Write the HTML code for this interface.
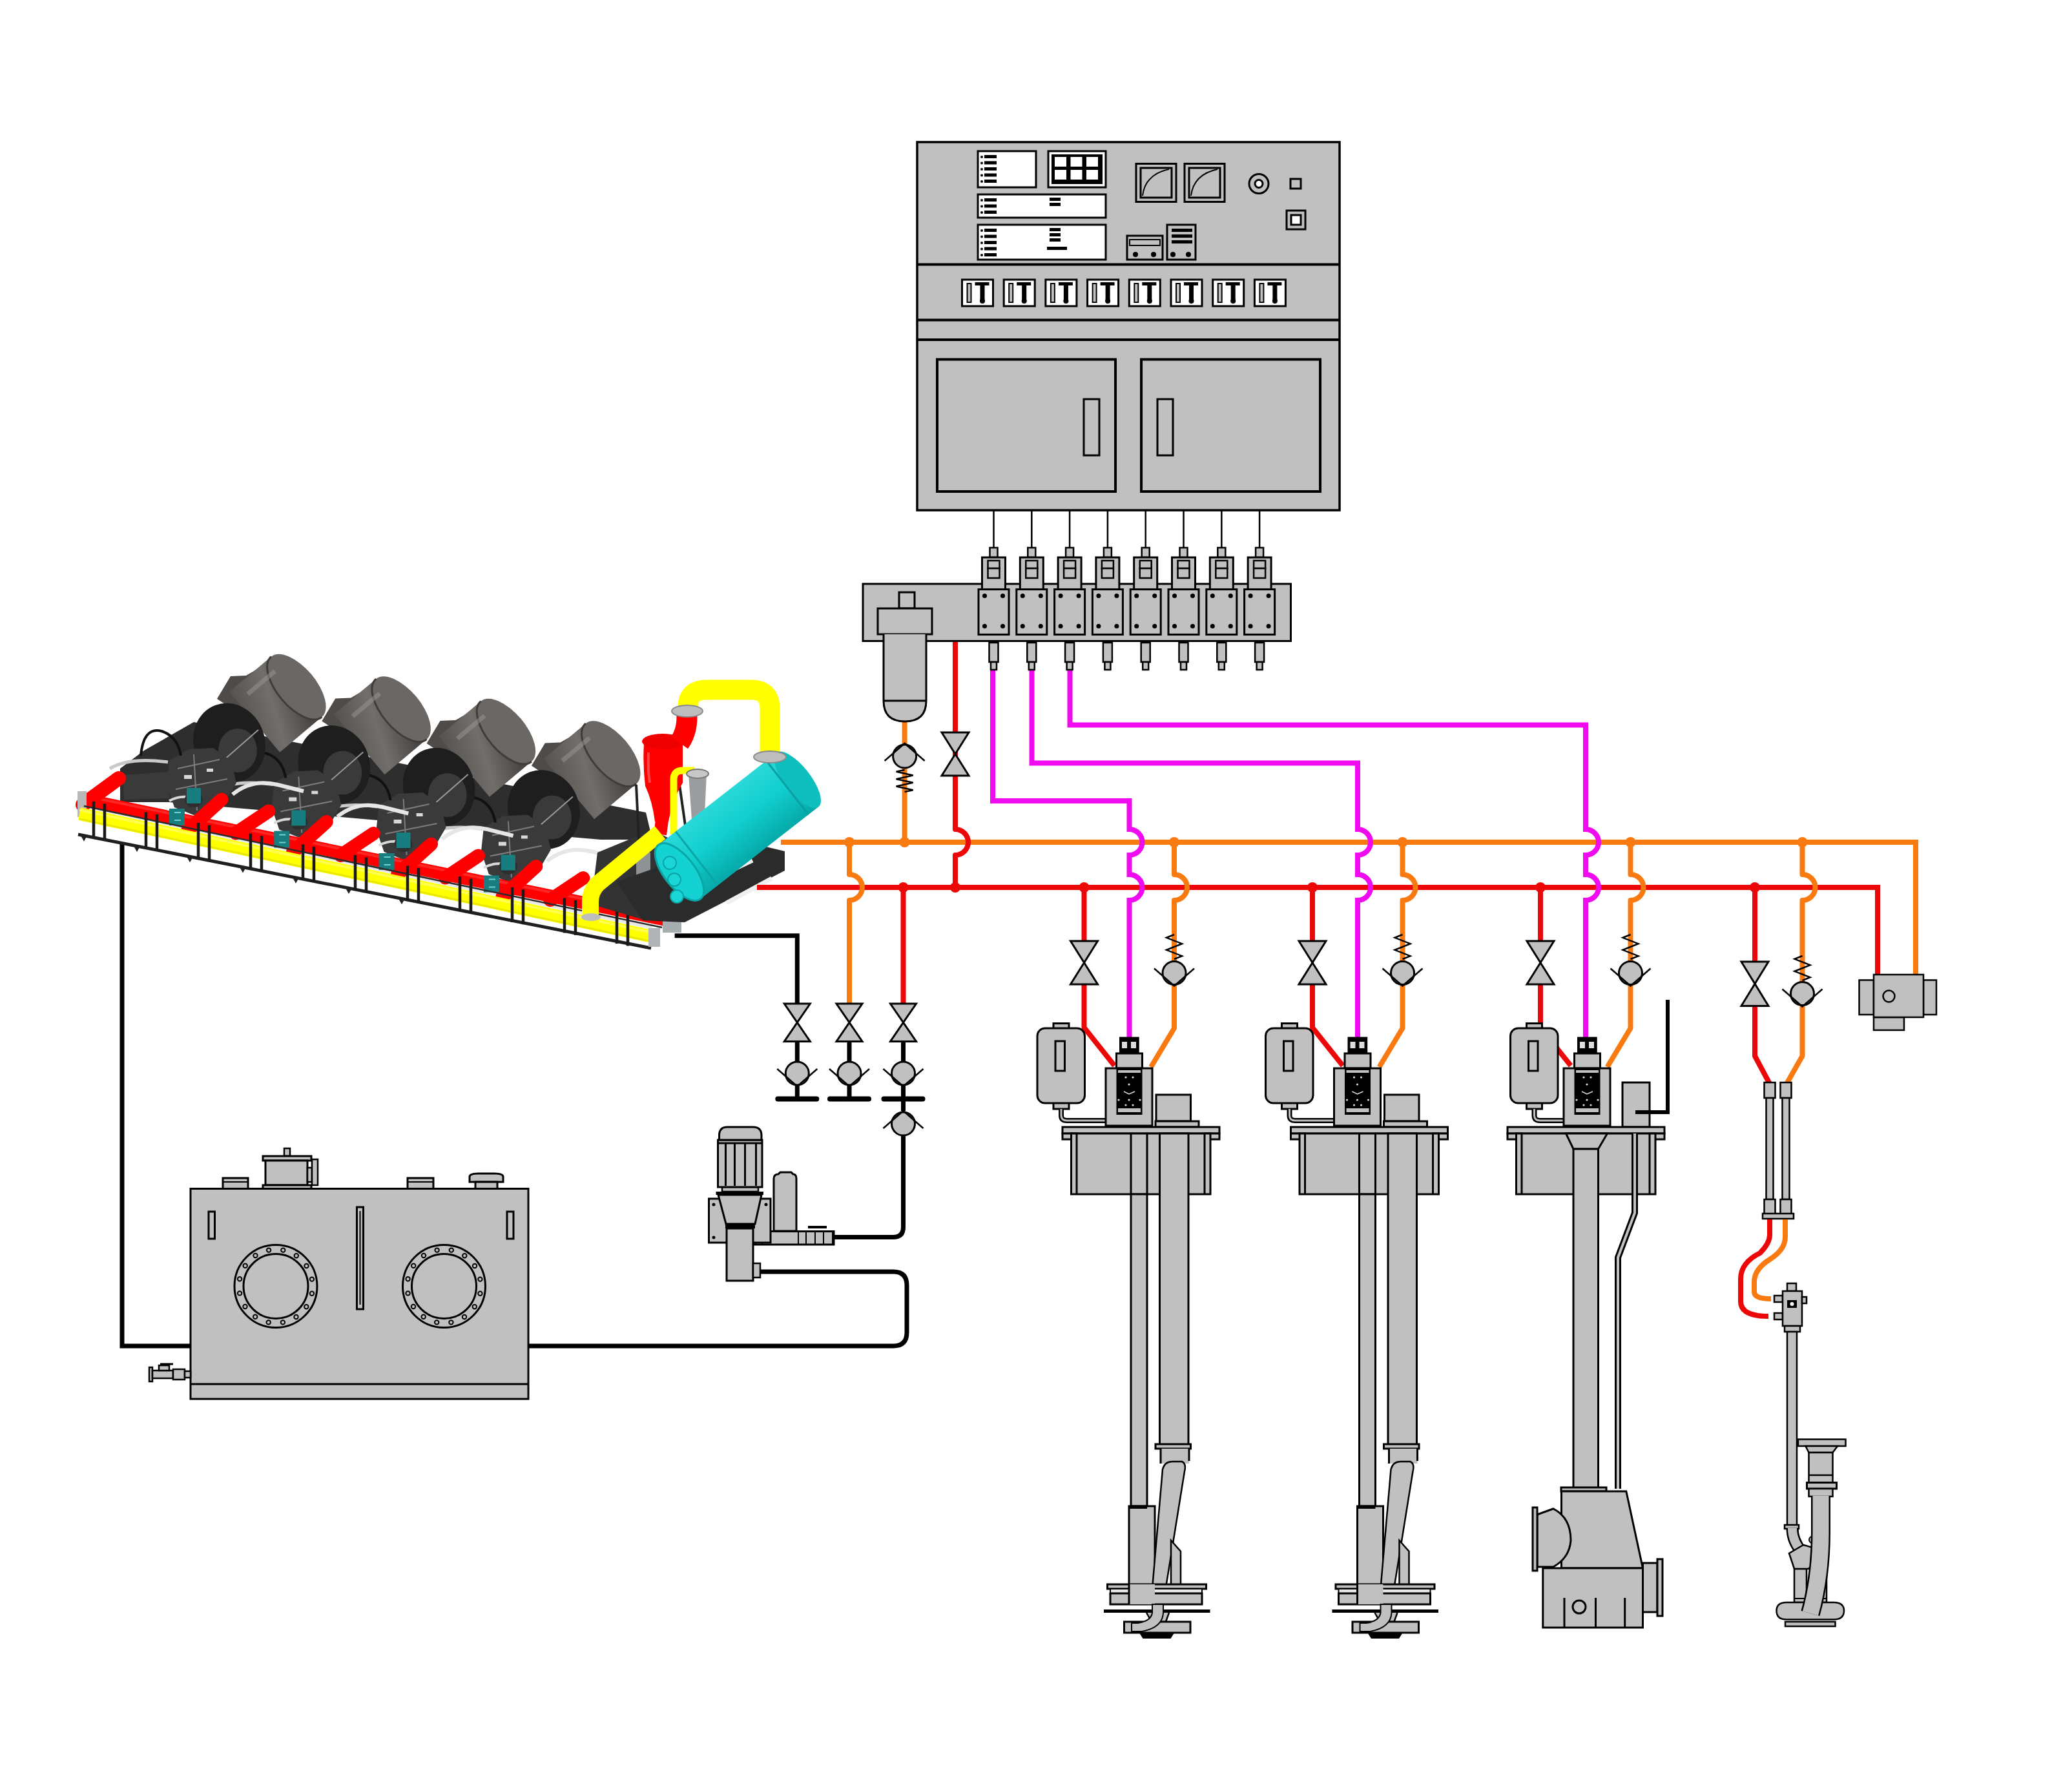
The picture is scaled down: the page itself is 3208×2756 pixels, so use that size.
<!DOCTYPE html><html><head><meta charset="utf-8"><title>Hydraulic system</title><style>html,body{margin:0;padding:0;background:#fff;font-family:"Liberation Sans", sans-serif;}svg{display:block;}</style></head><body>
<svg width="3208" height="2756" viewBox="0 0 3208 2756">
<rect width="3208" height="2756" fill="#fff"/>
<g id="tank">
<path d="M189,1304 V2084 H296" stroke="#000" stroke-width="7" fill="none" stroke-linejoin="miter"/>
<path d="M817,2084 H1383 Q1404,2084 1404,2063 V1990 Q1404,1969 1383,1969 H1173" stroke="#000" stroke-width="7" fill="none" />
<rect x="345.0" y="1824.0" width="39.0" height="17.0" fill="#c0c0c0" stroke="#000" stroke-width="3" />
<line x1="345.0" y1="1830.0" x2="384.0" y2="1830.0" stroke="#000" stroke-width="2"/>
<rect x="440.0" y="1778.0" width="9.0" height="12.0" fill="#c0c0c0" stroke="#000" stroke-width="2.5" />
<rect x="407.0" y="1790.0" width="75.0" height="7.0" fill="#c0c0c0" stroke="#000" stroke-width="3" />
<rect x="411.0" y="1797.0" width="65.0" height="38.0" fill="#c0c0c0" stroke="#000" stroke-width="3" />
<rect x="407.0" y="1835.0" width="75.0" height="6.0" fill="#c0c0c0" stroke="#000" stroke-width="3" />
<rect x="476.0" y="1808.0" width="7.0" height="22.0" fill="#c0c0c0" stroke="#000" stroke-width="2.5" />
<rect x="483.0" y="1795.0" width="9.0" height="40.0" fill="#c0c0c0" stroke="#000" stroke-width="2.5" />
<rect x="631.0" y="1824.0" width="40.0" height="17.0" fill="#c0c0c0" stroke="#000" stroke-width="3" />
<line x1="631.0" y1="1830.0" x2="671.0" y2="1830.0" stroke="#000" stroke-width="2"/>
<path d="M727,1830 V1822 Q727,1817 740,1817 H766 Q779,1817 779,1822 V1830 Z" stroke="#000" stroke-width="3" fill="#c0c0c0" />
<rect x="736.0" y="1830.0" width="34.0" height="11.0" fill="#c0c0c0" stroke="#000" stroke-width="3" />
<rect x="295.0" y="1840.5" width="523.0" height="325.5" fill="#c0c0c0" stroke="#000" stroke-width="3" />
<line x1="295.0" y1="2143.0" x2="818.0" y2="2143.0" stroke="#000" stroke-width="3"/>
<rect x="323.0" y="1876.0" width="9.5" height="42.0" fill="#c0c0c0" stroke="#000" stroke-width="3" />
<rect x="785.0" y="1876.0" width="10.0" height="42.0" fill="#c0c0c0" stroke="#000" stroke-width="3" />
<rect x="552.5" y="1869.0" width="10.0" height="158.0" fill="#c0c0c0" stroke="#000" stroke-width="3" />
<line x1="557.5" y1="1875.0" x2="557.5" y2="2020.0" stroke="#000" stroke-width="2"/>
<circle cx="427" cy="1991.5" r="57" fill="none" stroke="#000" stroke-width="17"/>
<circle cx="427" cy="1991.5" r="57" fill="none" stroke="#c0c0c0" stroke-width="11"/>
<circle cx="482.9" cy="2002.8" r="3.2" fill="none" stroke="#000" stroke-width="2"/>
<circle cx="474.3" cy="2023.3" r="3.2" fill="none" stroke="#000" stroke-width="2"/>
<circle cx="458.5" cy="2039.0" r="3.2" fill="none" stroke="#000" stroke-width="2"/>
<circle cx="437.9" cy="2047.4" r="3.2" fill="none" stroke="#000" stroke-width="2"/>
<circle cx="415.7" cy="2047.4" r="3.2" fill="none" stroke="#000" stroke-width="2"/>
<circle cx="395.2" cy="2038.8" r="3.2" fill="none" stroke="#000" stroke-width="2"/>
<circle cx="379.5" cy="2023.0" r="3.2" fill="none" stroke="#000" stroke-width="2"/>
<circle cx="371.1" cy="2002.4" r="3.2" fill="none" stroke="#000" stroke-width="2"/>
<circle cx="371.1" cy="1980.2" r="3.2" fill="none" stroke="#000" stroke-width="2"/>
<circle cx="379.7" cy="1959.7" r="3.2" fill="none" stroke="#000" stroke-width="2"/>
<circle cx="395.5" cy="1944.0" r="3.2" fill="none" stroke="#000" stroke-width="2"/>
<circle cx="416.1" cy="1935.6" r="3.2" fill="none" stroke="#000" stroke-width="2"/>
<circle cx="438.3" cy="1935.6" r="3.2" fill="none" stroke="#000" stroke-width="2"/>
<circle cx="458.8" cy="1944.2" r="3.2" fill="none" stroke="#000" stroke-width="2"/>
<circle cx="474.5" cy="1960.0" r="3.2" fill="none" stroke="#000" stroke-width="2"/>
<circle cx="482.9" cy="1980.6" r="3.2" fill="none" stroke="#000" stroke-width="2"/>
<circle cx="687.5" cy="1991.5" r="57" fill="none" stroke="#000" stroke-width="17"/>
<circle cx="687.5" cy="1991.5" r="57" fill="none" stroke="#c0c0c0" stroke-width="11"/>
<circle cx="743.4" cy="2002.8" r="3.2" fill="none" stroke="#000" stroke-width="2"/>
<circle cx="734.8" cy="2023.3" r="3.2" fill="none" stroke="#000" stroke-width="2"/>
<circle cx="719.0" cy="2039.0" r="3.2" fill="none" stroke="#000" stroke-width="2"/>
<circle cx="698.4" cy="2047.4" r="3.2" fill="none" stroke="#000" stroke-width="2"/>
<circle cx="676.2" cy="2047.4" r="3.2" fill="none" stroke="#000" stroke-width="2"/>
<circle cx="655.7" cy="2038.8" r="3.2" fill="none" stroke="#000" stroke-width="2"/>
<circle cx="640.0" cy="2023.0" r="3.2" fill="none" stroke="#000" stroke-width="2"/>
<circle cx="631.6" cy="2002.4" r="3.2" fill="none" stroke="#000" stroke-width="2"/>
<circle cx="631.6" cy="1980.2" r="3.2" fill="none" stroke="#000" stroke-width="2"/>
<circle cx="640.2" cy="1959.7" r="3.2" fill="none" stroke="#000" stroke-width="2"/>
<circle cx="656.0" cy="1944.0" r="3.2" fill="none" stroke="#000" stroke-width="2"/>
<circle cx="676.6" cy="1935.6" r="3.2" fill="none" stroke="#000" stroke-width="2"/>
<circle cx="698.8" cy="1935.6" r="3.2" fill="none" stroke="#000" stroke-width="2"/>
<circle cx="719.3" cy="1944.2" r="3.2" fill="none" stroke="#000" stroke-width="2"/>
<circle cx="735.0" cy="1960.0" r="3.2" fill="none" stroke="#000" stroke-width="2"/>
<circle cx="743.4" cy="1980.6" r="3.2" fill="none" stroke="#000" stroke-width="2"/>
<rect x="231.0" y="2117.0" width="5.0" height="22.0" fill="#c0c0c0" stroke="#000" stroke-width="2.5" />
<rect x="236.0" y="2122.0" width="32.0" height="12.0" fill="#c0c0c0" stroke="#000" stroke-width="2.5" />
<rect x="246.0" y="2114.0" width="16.0" height="8.0" fill="#c0c0c0" stroke="#000" stroke-width="2.5" />
<line x1="248.0" y1="2112.0" x2="268.0" y2="2112.0" stroke="#000" stroke-width="3"/>
<rect x="268.0" y="2120.0" width="18.0" height="16.0" fill="#c0c0c0" stroke="#000" stroke-width="2.5" />
<rect x="286.0" y="2123.0" width="9.0" height="10.0" fill="#c0c0c0" stroke="#000" stroke-width="2.5" />
</g>
<g id="unit3d">
<defs>
<linearGradient id="motg" x1="0" y1="0" x2="1" y2="0.6">
<stop offset="0" stop-color="#55524f"/><stop offset="0.55" stop-color="#726f6b"/><stop offset="1" stop-color="#4a4744"/></linearGradient>
<linearGradient id="cyg" x1="0" y1="0" x2="0" y2="1">
<stop offset="0" stop-color="#2ad8d8"/><stop offset="0.45" stop-color="#12cfcf"/><stop offset="1" stop-color="#06a9a9"/></linearGradient>
</defs>
<path d="M186,1190 L223,1162 L300,1118 L1000,1258 L1010,1300 L930,1300 L262,1242 L186,1242 Z" fill="#2e2e2e"/>
<path d="M190,1200 L260,1195 L262,1236 L192,1238 Z" fill="#3a3a3a"/>
<g transform="translate(486.9,103.5)">
<path d="M336,1082 L357,1047 L381,1046 L405,1032 L428,1078 L400,1125 Z" fill="#4e4b48"/>
<g transform="translate(394,1118) rotate(-40)"><rect x="0" y="-61" width="85" height="122" fill="url(#motg)"/><ellipse cx="85" cy="0" rx="30" ry="61" fill="#6a6764"/><path d="M85,-61 A30,61 0 0 0 85,61" stroke="#3f3d3b" stroke-width="3" fill="none"/><path d="M20,-40 L75,-40" stroke="#9b9894" stroke-width="7" opacity="0.5"/></g>
<ellipse cx="355" cy="1150" rx="55" ry="62" transform="rotate(-20 355 1150)" fill="#1e1e1e"/>
<ellipse cx="368" cy="1162" rx="30" ry="34" fill="#3a3a3a"/>
<path d="M320,1200 L400,1130" stroke="#9a9a9a" stroke-width="2"/>
<path d="M262,1178 L292,1160 L330,1158 L358,1178 L366,1212 L345,1248 L300,1262 L270,1250 L258,1215 Z" fill="#3a3a3a"/>
<path d="M275,1190 L340,1176 M272,1222 L352,1206 M300,1168 L305,1255" stroke="#7d7d7d" stroke-width="2" fill="none"/>
<path d="M285,1200 h12 v6 h-12 z M320,1190 h10 v5 h-10 z" fill="#d8d8d8"/>
<path d="M262,1240 Q280,1230 300,1236" stroke="#d8d8d8" stroke-width="4" fill="none"/>
<ellipse cx="300" cy="1238" rx="14" ry="12" fill="#2e2e2e"/>
<path d="M170,1190 Q200,1172 260,1180" stroke="#c9c9c9" stroke-width="5" fill="none"/>
<path d="M360,1230 Q390,1205 430,1215 L470,1225" stroke="#e6e6e6" stroke-width="6" fill="none"/>
<path d="M218,1170 Q222,1125 250,1132 Q275,1140 280,1170" stroke="#111" stroke-width="4" fill="none"/>
</g>
<g transform="translate(324.6,69.0)">
<path d="M336,1082 L357,1047 L381,1046 L405,1032 L428,1078 L400,1125 Z" fill="#4e4b48"/>
<g transform="translate(394,1118) rotate(-40)"><rect x="0" y="-61" width="85" height="122" fill="url(#motg)"/><ellipse cx="85" cy="0" rx="30" ry="61" fill="#6a6764"/><path d="M85,-61 A30,61 0 0 0 85,61" stroke="#3f3d3b" stroke-width="3" fill="none"/><path d="M20,-40 L75,-40" stroke="#9b9894" stroke-width="7" opacity="0.5"/></g>
<ellipse cx="355" cy="1150" rx="55" ry="62" transform="rotate(-20 355 1150)" fill="#1e1e1e"/>
<ellipse cx="368" cy="1162" rx="30" ry="34" fill="#3a3a3a"/>
<path d="M320,1200 L400,1130" stroke="#9a9a9a" stroke-width="2"/>
<path d="M262,1178 L292,1160 L330,1158 L358,1178 L366,1212 L345,1248 L300,1262 L270,1250 L258,1215 Z" fill="#3a3a3a"/>
<path d="M275,1190 L340,1176 M272,1222 L352,1206 M300,1168 L305,1255" stroke="#7d7d7d" stroke-width="2" fill="none"/>
<path d="M285,1200 h12 v6 h-12 z M320,1190 h10 v5 h-10 z" fill="#d8d8d8"/>
<path d="M262,1240 Q280,1230 300,1236" stroke="#d8d8d8" stroke-width="4" fill="none"/>
<ellipse cx="300" cy="1238" rx="14" ry="12" fill="#2e2e2e"/>
<path d="M170,1190 Q200,1172 260,1180" stroke="#c9c9c9" stroke-width="5" fill="none"/>
<path d="M360,1230 Q390,1205 430,1215 L470,1225" stroke="#e6e6e6" stroke-width="6" fill="none"/>
<path d="M218,1170 Q222,1125 250,1132 Q275,1140 280,1170" stroke="#111" stroke-width="4" fill="none"/>
</g>
<g transform="translate(162.3,34.5)">
<path d="M336,1082 L357,1047 L381,1046 L405,1032 L428,1078 L400,1125 Z" fill="#4e4b48"/>
<g transform="translate(394,1118) rotate(-40)"><rect x="0" y="-61" width="85" height="122" fill="url(#motg)"/><ellipse cx="85" cy="0" rx="30" ry="61" fill="#6a6764"/><path d="M85,-61 A30,61 0 0 0 85,61" stroke="#3f3d3b" stroke-width="3" fill="none"/><path d="M20,-40 L75,-40" stroke="#9b9894" stroke-width="7" opacity="0.5"/></g>
<ellipse cx="355" cy="1150" rx="55" ry="62" transform="rotate(-20 355 1150)" fill="#1e1e1e"/>
<ellipse cx="368" cy="1162" rx="30" ry="34" fill="#3a3a3a"/>
<path d="M320,1200 L400,1130" stroke="#9a9a9a" stroke-width="2"/>
<path d="M262,1178 L292,1160 L330,1158 L358,1178 L366,1212 L345,1248 L300,1262 L270,1250 L258,1215 Z" fill="#3a3a3a"/>
<path d="M275,1190 L340,1176 M272,1222 L352,1206 M300,1168 L305,1255" stroke="#7d7d7d" stroke-width="2" fill="none"/>
<path d="M285,1200 h12 v6 h-12 z M320,1190 h10 v5 h-10 z" fill="#d8d8d8"/>
<path d="M262,1240 Q280,1230 300,1236" stroke="#d8d8d8" stroke-width="4" fill="none"/>
<ellipse cx="300" cy="1238" rx="14" ry="12" fill="#2e2e2e"/>
<path d="M170,1190 Q200,1172 260,1180" stroke="#c9c9c9" stroke-width="5" fill="none"/>
<path d="M360,1230 Q390,1205 430,1215 L470,1225" stroke="#e6e6e6" stroke-width="6" fill="none"/>
<path d="M218,1170 Q222,1125 250,1132 Q275,1140 280,1170" stroke="#111" stroke-width="4" fill="none"/>
</g>
<g transform="translate(0.0,0.0)">
<path d="M336,1082 L357,1047 L381,1046 L405,1032 L428,1078 L400,1125 Z" fill="#4e4b48"/>
<g transform="translate(394,1118) rotate(-40)"><rect x="0" y="-61" width="85" height="122" fill="url(#motg)"/><ellipse cx="85" cy="0" rx="30" ry="61" fill="#6a6764"/><path d="M85,-61 A30,61 0 0 0 85,61" stroke="#3f3d3b" stroke-width="3" fill="none"/><path d="M20,-40 L75,-40" stroke="#9b9894" stroke-width="7" opacity="0.5"/></g>
<ellipse cx="355" cy="1150" rx="55" ry="62" transform="rotate(-20 355 1150)" fill="#1e1e1e"/>
<ellipse cx="368" cy="1162" rx="30" ry="34" fill="#3a3a3a"/>
<path d="M320,1200 L400,1130" stroke="#9a9a9a" stroke-width="2"/>
<path d="M262,1178 L292,1160 L330,1158 L358,1178 L366,1212 L345,1248 L300,1262 L270,1250 L258,1215 Z" fill="#3a3a3a"/>
<path d="M275,1190 L340,1176 M272,1222 L352,1206 M300,1168 L305,1255" stroke="#7d7d7d" stroke-width="2" fill="none"/>
<path d="M285,1200 h12 v6 h-12 z M320,1190 h10 v5 h-10 z" fill="#d8d8d8"/>
<path d="M262,1240 Q280,1230 300,1236" stroke="#d8d8d8" stroke-width="4" fill="none"/>
<ellipse cx="300" cy="1238" rx="14" ry="12" fill="#2e2e2e"/>
<path d="M170,1190 Q200,1172 260,1180" stroke="#c9c9c9" stroke-width="5" fill="none"/>
<path d="M360,1230 Q390,1205 430,1215 L470,1225" stroke="#e6e6e6" stroke-width="6" fill="none"/>
<path d="M218,1170 Q222,1125 250,1132 Q275,1140 280,1170" stroke="#111" stroke-width="4" fill="none"/>
</g>
<path d="M150,1252 L1010,1436" stroke="#e8e8e8" stroke-width="6" fill="none"/>
<path d="M130,1238 L1030,1424" stroke="#ff0000" stroke-width="20" fill="none"/>
<path d="M130,1232 L1030,1418" stroke="#ff4040" stroke-width="4" fill="none" opacity="0.6"/>
<path d="M291.0,1285.0 L343.0,1238.0" stroke="#ff0000" stroke-width="21" stroke-linecap="round"/>
<path d="M365.0,1290.0 L416.0,1256.0" stroke="#ff0000" stroke-width="21" stroke-linecap="round"/>
<rect x="262.0" y="1252.0" width="24" height="26" fill="#187d7e"/>
<rect x="289.0" y="1220.0" width="22" height="24" fill="#187d7e"/>
<path d="M270.0,1258.0 h10 M270.0,1270.0 h10" stroke="#6fd0d0" stroke-width="2"/>
<path d="M453.3,1319.5 L505.3,1272.5" stroke="#ff0000" stroke-width="21" stroke-linecap="round"/>
<path d="M527.3,1324.5 L578.3,1290.5" stroke="#ff0000" stroke-width="21" stroke-linecap="round"/>
<rect x="424.3" y="1286.5" width="24" height="26" fill="#187d7e"/>
<rect x="451.3" y="1254.5" width="22" height="24" fill="#187d7e"/>
<path d="M432.3,1292.5 h10 M432.3,1304.5 h10" stroke="#6fd0d0" stroke-width="2"/>
<path d="M615.6,1354.0 L667.6,1307.0" stroke="#ff0000" stroke-width="21" stroke-linecap="round"/>
<path d="M689.6,1359.0 L740.6,1325.0" stroke="#ff0000" stroke-width="21" stroke-linecap="round"/>
<rect x="586.6" y="1321.0" width="24" height="26" fill="#187d7e"/>
<rect x="613.6" y="1289.0" width="22" height="24" fill="#187d7e"/>
<path d="M594.6,1327.0 h10 M594.6,1339.0 h10" stroke="#6fd0d0" stroke-width="2"/>
<path d="M777.9,1388.5 L829.9,1341.5" stroke="#ff0000" stroke-width="21" stroke-linecap="round"/>
<path d="M851.9,1393.5 L902.9,1359.5" stroke="#ff0000" stroke-width="21" stroke-linecap="round"/>
<rect x="748.9" y="1355.5" width="24" height="26" fill="#187d7e"/>
<rect x="775.9" y="1323.5" width="22" height="24" fill="#187d7e"/>
<path d="M756.9,1361.5 h10 M756.9,1373.5 h10" stroke="#6fd0d0" stroke-width="2"/>
<path d="M128,1246 L184,1205" stroke="#ff0000" stroke-width="22" stroke-linecap="round"/>
<rect x="120" y="1225" width="14" height="40" fill="#b8b8b8"/>
<path d="M123,1260 L1005,1449" stroke="#ffff00" stroke-width="20" fill="none"/>
<path d="M123,1254 L1005,1443" stroke="#ffff70" stroke-width="4" fill="none" opacity="0.7"/>
<path d="M123,1268 L1005,1457" stroke="#e0e000" stroke-width="3" fill="none" opacity="0.7"/>
<path d="M121,1292 L1008,1468" stroke="#1f1f1f" stroke-width="5" fill="none"/>
<path d="M130,1248 L1025,1436" stroke="#2a2a2a" stroke-width="2.5" fill="none"/>
<path d="M145.0,1240.9 V1294.9" stroke="#1a1a1a" stroke-width="4.5"/>
<path d="M162.0,1244.4 V1298.4" stroke="#1a1a1a" stroke-width="4.5"/>
<path d="M226.0,1257.5 V1311.5" stroke="#1a1a1a" stroke-width="4.5"/>
<path d="M243.0,1261.0 V1315.0" stroke="#1a1a1a" stroke-width="4.5"/>
<path d="M307.0,1274.1 V1328.1" stroke="#1a1a1a" stroke-width="4.5"/>
<path d="M324.0,1277.6 V1331.6" stroke="#1a1a1a" stroke-width="4.5"/>
<path d="M388.0,1290.7 V1344.7" stroke="#1a1a1a" stroke-width="4.5"/>
<path d="M405.0,1294.2 V1348.2" stroke="#1a1a1a" stroke-width="4.5"/>
<path d="M469.0,1307.3 V1361.3" stroke="#1a1a1a" stroke-width="4.5"/>
<path d="M486.0,1310.8 V1364.8" stroke="#1a1a1a" stroke-width="4.5"/>
<path d="M550.0,1323.9 V1377.9" stroke="#1a1a1a" stroke-width="4.5"/>
<path d="M567.0,1327.4 V1381.4" stroke="#1a1a1a" stroke-width="4.5"/>
<path d="M631.0,1340.5 V1394.5" stroke="#1a1a1a" stroke-width="4.5"/>
<path d="M648.0,1344.0 V1398.0" stroke="#1a1a1a" stroke-width="4.5"/>
<path d="M712.0,1357.2 V1411.2" stroke="#1a1a1a" stroke-width="4.5"/>
<path d="M729.0,1360.6 V1414.6" stroke="#1a1a1a" stroke-width="4.5"/>
<path d="M793.0,1373.8 V1427.8" stroke="#1a1a1a" stroke-width="4.5"/>
<path d="M810.0,1377.2 V1431.2" stroke="#1a1a1a" stroke-width="4.5"/>
<path d="M874.0,1390.4 V1444.4" stroke="#1a1a1a" stroke-width="4.5"/>
<path d="M891.0,1393.8 V1447.8" stroke="#1a1a1a" stroke-width="4.5"/>
<path d="M955.0,1407.0 V1461.0" stroke="#1a1a1a" stroke-width="4.5"/>
<path d="M972.0,1410.5 V1464.5" stroke="#1a1a1a" stroke-width="4.5"/>
<path d="M125.0,1293.8 L130.0,1302.8 L135.0,1293.8 Z" fill="#222"/>
<path d="M207.0,1310.0 L212.0,1319.0 L217.0,1310.0 Z" fill="#222"/>
<path d="M289.0,1326.3 L294.0,1335.3 L299.0,1326.3 Z" fill="#222"/>
<path d="M371.0,1342.5 L376.0,1351.5 L381.0,1342.5 Z" fill="#222"/>
<path d="M453.0,1358.7 L458.0,1367.7 L463.0,1358.7 Z" fill="#222"/>
<path d="M535.0,1375.0 L540.0,1384.0 L545.0,1375.0 Z" fill="#222"/>
<path d="M617.0,1391.2 L622.0,1400.2 L627.0,1391.2 Z" fill="#222"/>
<rect x="1026" y="1410" width="29" height="34" fill="#a8adb0"/>
<rect x="1004" y="1437" width="18" height="29" fill="#b0b4b6"/>
<path d="M925,1320 L1010,1285 L1040,1300 L1040,1410 L1000,1425 L915,1400 Z" fill="#333"/>
<path d="M985,1320 h22 v40 h-22 z" fill="#8f9294"/>
<path d="M980,1395 L992,1370 L1000,1400 Z" fill="#ff0000"/>
<path d="M955,1365 L1140,1300 L1215,1318 L1215,1348 L1060,1428 L995,1425 Z" fill="#2b2b2b"/>
<path d="M1085,1370 L1165,1332 M1125,1398 L1195,1360" stroke="#f0f0f0" stroke-width="7"/>
<path d="M985,1215 L990,1320 M1052,1215 L1062,1285" stroke="#222" stroke-width="4"/>
<path d="M997,1150 Q995,1185 999,1217 Q1010,1240 1014,1272 L1035,1272 Q1040,1240 1057,1212 L1057,1150 Z" fill="#ff0000"/>
<path d="M1004,1165 Q1003,1195 1006,1212" stroke="#ff7070" stroke-width="4" fill="none" opacity="0.6"/>
<ellipse cx="1026" cy="1148" rx="32" ry="12" fill="#ee0000"/>
<path d="M1063,1100 Q1066,1130 1052,1150" stroke="#ff0000" stroke-width="32" fill="none"/>
<path d="M1025,1270 L1022,1292" stroke="#ff0000" stroke-width="20" fill="none"/>
<path d="M1065,1104 V1095 Q1065,1068 1094,1068 H1163 Q1192,1068 1192,1097 V1175" stroke="#ffff00" stroke-width="31" fill="none"/>
<ellipse cx="1064" cy="1101" rx="24" ry="9" fill="#bdbdbd" stroke="#8a8a8a" stroke-width="2"/>
<path d="M1022,1289 L926,1368 Q913,1380 914,1400 L914,1428" stroke="#ffff00" stroke-width="26" fill="none"/>
<ellipse cx="915" cy="1420" rx="15" ry="6" fill="#bdbdbd"/>
<path d="M1043,1292 V1207 Q1043,1193 1057,1193 H1075" stroke="#ffff00" stroke-width="11" fill="none"/>
<path d="M1066,1198 L1094,1198 L1090,1282 L1072,1284 Z" fill="#9a9da0"/>
<ellipse cx="1080" cy="1198" rx="17" ry="7" fill="#c8c8c8" stroke="#777" stroke-width="2"/>
<g transform="translate(1052,1350) rotate(-38)">
<rect x="0" y="-53" width="232" height="106" fill="url(#cyg)"/>
<ellipse cx="232" cy="0" rx="20" ry="53" fill="#0fbfbf"/>
<line x1="212" y1="-53" x2="212" y2="53" stroke="#0aa0a0" stroke-width="3"/>
<ellipse cx="0" cy="0" rx="24" ry="53" fill="#14d2d2" stroke="#0aa5a5" stroke-width="3"/>
<line x1="34" y1="-53" x2="34" y2="53" stroke="#0aa5a5" stroke-width="3"/>
</g>
<circle cx="1037" cy="1336" r="10" fill="#1ad6d6" stroke="#0aa5a5" stroke-width="2"/>
<circle cx="1044" cy="1362" r="10" fill="#1ad6d6" stroke="#0aa5a5" stroke-width="2"/>
<circle cx="1048" cy="1388" r="10" fill="#1ad6d6" stroke="#0aa5a5" stroke-width="2"/>
<ellipse cx="1192" cy="1172" rx="25" ry="9" fill="#bdbdbd" stroke="#8a8a8a" stroke-width="2"/>
</g>
<g id="pipes">
<path d="M1209,1304 H2966 V1512" stroke="#f97a10" stroke-width="8" fill="none" stroke-linejoin="miter"/>
<path d="M1172,1374 H2907 V1512" stroke="#ec0808" stroke-width="8" fill="none" stroke-linejoin="miter"/>
<path d="M1400.6,1117.0 V1304.0" stroke="#f97a10" stroke-width="8" fill="none" stroke-linejoin="round"/>
<path d="M1479.0,992.5 V1284.0 A20,20 0 0 1 1479.0,1324.0 V1374.0" stroke="#ec0808" stroke-width="8" fill="none" stroke-linejoin="round"/>
<path d="M1315.0,1304.0 V1354.0 A20,20 0 0 1 1315.0,1394.0 V1556.0" stroke="#f97a10" stroke-width="8" fill="none" stroke-linejoin="round"/>
<path d="M1398.5,1374.0 V1556.0" stroke="#ec0808" stroke-width="8" fill="none" stroke-linejoin="round"/>
<path d="M1044.6,1448.7 H1234.3 V1556" stroke="#000" stroke-width="7" fill="none" stroke-linejoin="miter"/>
<path d="M1234.3,1612 V1700" stroke="#000" stroke-width="7" fill="none" />
<path d="M1315,1612 V1700" stroke="#000" stroke-width="7" fill="none" />
<path d="M1398.5,1612 V1700" stroke="#000" stroke-width="7" fill="none" />
<path d="M1398.5,1700 V1720" stroke="#000" stroke-width="7" fill="none" />
<path d="M1398.5,1758 V1900 Q1398.5,1915.5 1383,1915.5 H1291" stroke="#000" stroke-width="7" fill="none" />
<path d="M1678.5,1374.0 V1460.0" stroke="#ec0808" stroke-width="8" fill="none" stroke-linejoin="round"/>
<path d="M1678.5,1522 V1591 L1725.5,1650" stroke="#ec0808" stroke-width="8" fill="none" stroke-linejoin="round"/>
<path d="M1818.0,1304.0 V1354.0 A20,20 0 0 1 1818.0,1394.0 V1490.0" stroke="#f97a10" stroke-width="8" fill="none" stroke-linejoin="round"/>
<path d="M1818,1520 V1592 L1782,1652" stroke="#f97a10" stroke-width="8" fill="none" stroke-linejoin="round"/>
<path d="M2032.0,1374.0 V1460.0" stroke="#ec0808" stroke-width="8" fill="none" stroke-linejoin="round"/>
<path d="M2032.0,1522 V1591 L2079.0,1650" stroke="#ec0808" stroke-width="8" fill="none" stroke-linejoin="round"/>
<path d="M2171.5,1304.0 V1354.0 A20,20 0 0 1 2171.5,1394.0 V1490.0" stroke="#f97a10" stroke-width="8" fill="none" stroke-linejoin="round"/>
<path d="M2171.5,1520 V1592 L2135.5,1652" stroke="#f97a10" stroke-width="8" fill="none" stroke-linejoin="round"/>
<path d="M2385.0,1374.0 V1460.0" stroke="#ec0808" stroke-width="8" fill="none" stroke-linejoin="round"/>
<path d="M2385.0,1522 V1591 L2432.0,1650" stroke="#ec0808" stroke-width="8" fill="none" stroke-linejoin="round"/>
<path d="M2524.5,1304.0 V1354.0 A20,20 0 0 1 2524.5,1394.0 V1490.0" stroke="#f97a10" stroke-width="8" fill="none" stroke-linejoin="round"/>
<path d="M2524.5,1520 V1592 L2488.5,1652" stroke="#f97a10" stroke-width="8" fill="none" stroke-linejoin="round"/>
<path d="M1537,1037 V1240 H1748.5 V1284 A20,20 0 0 1 1748.5,1324 V1354 A20,20 0 0 1 1748.5,1394 V1608" stroke="#f00af0" stroke-width="8" fill="none" stroke-linejoin="miter"/>
<path d="M1597.5,1037 V1181.5 H2102 V1284 A20,20 0 0 1 2102,1324 V1354 A20,20 0 0 1 2102,1394 V1608" stroke="#f00af0" stroke-width="8" fill="none" stroke-linejoin="miter"/>
<path d="M1656.5,1037 V1122.5 H2455 V1284 A20,20 0 0 1 2455,1324 V1354 A20,20 0 0 1 2455,1394 V1608" stroke="#f00af0" stroke-width="8" fill="none" stroke-linejoin="miter"/>
<path d="M2717.0,1374.0 V1492.0" stroke="#ec0808" stroke-width="8" fill="none" stroke-linejoin="round"/>
<path d="M2717,1556 V1635 L2741,1680" stroke="#ec0808" stroke-width="8" fill="none" stroke-linejoin="round"/>
<path d="M2790.5,1304.0 V1354.0 A20,20 0 0 1 2790.5,1394.0 V1520.0" stroke="#f97a10" stroke-width="8" fill="none" stroke-linejoin="round"/>
<path d="M2790.5,1558 V1635 L2765,1680" stroke="#f97a10" stroke-width="8" fill="none" stroke-linejoin="round"/>
<circle cx="1315" cy="1304" r="8" fill="#f97a10"/>
<circle cx="1400.6" cy="1304" r="8" fill="#f97a10"/>
<circle cx="1818" cy="1304" r="8" fill="#f97a10"/>
<circle cx="2171.5" cy="1304" r="8" fill="#f97a10"/>
<circle cx="2524.5" cy="1304" r="8" fill="#f97a10"/>
<circle cx="2790.5" cy="1304" r="8" fill="#f97a10"/>
<circle cx="1398.5" cy="1374" r="8" fill="#ec0808"/>
<circle cx="1479" cy="1374" r="8" fill="#ec0808"/>
<circle cx="1678.5" cy="1374" r="8" fill="#ec0808"/>
<circle cx="2032" cy="1374" r="8" fill="#ec0808"/>
<circle cx="2385" cy="1374" r="8" fill="#ec0808"/>
<circle cx="2717" cy="1374" r="8" fill="#ec0808"/>
</g>
<g id="valves">
<circle cx="1400.6" cy="1171.0" r="18" fill="#c0c0c0" stroke="#000" stroke-width="3"/>
<path d="M1369.6,1178.0 L1400.6,1151.0 L1431.6,1178.0" stroke="#000" stroke-width="2.5" fill="none" />
<path d="M1400.6,1192.0 L1387.6,1194.8 L1413.6,1200.5 L1387.6,1206.2 L1413.6,1211.8 L1387.6,1217.5 L1413.6,1223.2 L1400.6,1226.0" stroke="#000" stroke-width="2.5" fill="none" />
<path d="M1458.0,1134.0 H1500.0 L1479.0,1167.5 Z M1458.0,1201.0 H1500.0 L1479.0,1167.5 Z" stroke="#000" stroke-width="3" fill="#c0c0c0" stroke-linejoin="miter"/>
<path d="M1214.3,1554.0 H1254.3 L1234.3,1583.2 Z M1214.3,1612.5 H1254.3 L1234.3,1583.2 Z" stroke="#000" stroke-width="3" fill="#c0c0c0" stroke-linejoin="miter"/>
<circle cx="1234.3" cy="1662.0" r="18" fill="#c0c0c0" stroke="#000" stroke-width="3"/>
<path d="M1203.3,1655.0 L1234.3,1682.0 L1265.3,1655.0" stroke="#000" stroke-width="2.5" fill="none" />
<path d="M1204.3,1701.5 H1264.3" stroke="#000" stroke-width="8" fill="none" stroke-linecap="round"/>
<path d="M1295.0,1554.0 H1335.0 L1315.0,1583.2 Z M1295.0,1612.5 H1335.0 L1315.0,1583.2 Z" stroke="#000" stroke-width="3" fill="#c0c0c0" stroke-linejoin="miter"/>
<circle cx="1315.0" cy="1662.0" r="18" fill="#c0c0c0" stroke="#000" stroke-width="3"/>
<path d="M1284.0,1655.0 L1315.0,1682.0 L1346.0,1655.0" stroke="#000" stroke-width="2.5" fill="none" />
<path d="M1285,1701.5 H1345" stroke="#000" stroke-width="8" fill="none" stroke-linecap="round"/>
<path d="M1378.5,1554.0 H1418.5 L1398.5,1583.2 Z M1378.5,1612.5 H1418.5 L1398.5,1583.2 Z" stroke="#000" stroke-width="3" fill="#c0c0c0" stroke-linejoin="miter"/>
<circle cx="1398.5" cy="1662.0" r="18" fill="#c0c0c0" stroke="#000" stroke-width="3"/>
<path d="M1367.5,1655.0 L1398.5,1682.0 L1429.5,1655.0" stroke="#000" stroke-width="2.5" fill="none" />
<path d="M1368.5,1701.5 H1428.5" stroke="#000" stroke-width="8" fill="none" stroke-linecap="round"/>
<circle cx="1398.5" cy="1740.0" r="18" fill="#c0c0c0" stroke="#000" stroke-width="3"/>
<path d="M1367.5,1747.0 L1398.5,1720.0 L1429.5,1747.0" stroke="#000" stroke-width="2.5" fill="none" />
<path d="M1657.5,1457.0 H1699.5 L1678.5,1490.5 Z M1657.5,1524.0 H1699.5 L1678.5,1490.5 Z" stroke="#000" stroke-width="3" fill="#c0c0c0" stroke-linejoin="miter"/>
<circle cx="1818.0" cy="1506.5" r="18" fill="#c0c0c0" stroke="#000" stroke-width="3"/>
<path d="M1787.0,1499.5 L1818.0,1526.5 L1849.0,1499.5" stroke="#000" stroke-width="2.5" fill="none" />
<path d="M1818.0,1447.0 L1806.0,1451.8 L1830.0,1461.2 L1806.0,1470.8 L1830.0,1480.2 L1818.0,1485.0" stroke="#000" stroke-width="2.5" fill="none" />
<path d="M2011.0,1457.0 H2053.0 L2032.0,1490.5 Z M2011.0,1524.0 H2053.0 L2032.0,1490.5 Z" stroke="#000" stroke-width="3" fill="#c0c0c0" stroke-linejoin="miter"/>
<circle cx="2171.5" cy="1506.5" r="18" fill="#c0c0c0" stroke="#000" stroke-width="3"/>
<path d="M2140.5,1499.5 L2171.5,1526.5 L2202.5,1499.5" stroke="#000" stroke-width="2.5" fill="none" />
<path d="M2171.5,1447.0 L2159.5,1451.8 L2183.5,1461.2 L2159.5,1470.8 L2183.5,1480.2 L2171.5,1485.0" stroke="#000" stroke-width="2.5" fill="none" />
<path d="M2364.0,1457.0 H2406.0 L2385.0,1490.5 Z M2364.0,1524.0 H2406.0 L2385.0,1490.5 Z" stroke="#000" stroke-width="3" fill="#c0c0c0" stroke-linejoin="miter"/>
<circle cx="2524.5" cy="1506.5" r="18" fill="#c0c0c0" stroke="#000" stroke-width="3"/>
<path d="M2493.5,1499.5 L2524.5,1526.5 L2555.5,1499.5" stroke="#000" stroke-width="2.5" fill="none" />
<path d="M2524.5,1447.0 L2512.5,1451.8 L2536.5,1461.2 L2512.5,1470.8 L2536.5,1480.2 L2524.5,1485.0" stroke="#000" stroke-width="2.5" fill="none" />
<path d="M2696.0,1489.0 H2738.0 L2717.0,1523.2 Z M2696.0,1557.5 H2738.0 L2717.0,1523.2 Z" stroke="#000" stroke-width="3" fill="#c0c0c0" stroke-linejoin="miter"/>
<circle cx="2790.5" cy="1538.5" r="18" fill="#c0c0c0" stroke="#000" stroke-width="3"/>
<path d="M2759.5,1531.5 L2790.5,1558.5 L2821.5,1531.5" stroke="#000" stroke-width="2.5" fill="none" />
<path d="M2790.5,1480.0 L2778.5,1484.8 L2802.5,1494.2 L2778.5,1503.8 L2802.5,1513.2 L2790.5,1518.0" stroke="#000" stroke-width="2.5" fill="none" />
<rect x="2878.5" y="1517.5" width="22.5" height="53.5" fill="#c0c0c0" stroke="#000" stroke-width="2.5" />
<rect x="2978.0" y="1517.5" width="20.0" height="53.5" fill="#c0c0c0" stroke="#000" stroke-width="2.5" />
<rect x="2901.0" y="1575.0" width="47.0" height="20.0" fill="#c0c0c0" stroke="#000" stroke-width="2.5" />
<rect x="2901.0" y="1509.0" width="77.0" height="66.0" fill="#c0c0c0" stroke="#000" stroke-width="2.5" />
<circle cx="2924.5" cy="1542.5" r="9" fill="#c0c0c0" stroke="#000" stroke-width="2.5"/>
</g>
<g id="panel">
<rect x="1420.0" y="220.0" width="654.0" height="570.0" fill="#c0c0c0" stroke="#000" stroke-width="3.5" />
<line x1="1420.0" y1="409.5" x2="2074.0" y2="409.5" stroke="#000" stroke-width="4"/>
<line x1="1420.0" y1="495.5" x2="2074.0" y2="495.5" stroke="#000" stroke-width="4"/>
<line x1="1420.0" y1="526.0" x2="2074.0" y2="526.0" stroke="#000" stroke-width="4"/>
<rect x="1451.0" y="556.5" width="276.0" height="204.5" fill="#c0c0c0" stroke="#000" stroke-width="4" />
<rect x="1767.0" y="556.5" width="277.0" height="204.5" fill="#c0c0c0" stroke="#000" stroke-width="4" />
<rect x="1678.0" y="618.0" width="24.0" height="87.0" fill="#c0c0c0" stroke="#000" stroke-width="3" />
<rect x="1792.0" y="618.0" width="24.0" height="87.0" fill="#c0c0c0" stroke="#000" stroke-width="3" />
<rect x="1514.0" y="234.0" width="90.0" height="56.0" fill="#fff" stroke="#000" stroke-width="3" />
<rect x="1623.0" y="234.0" width="89.0" height="56.0" fill="#fff" stroke="#000" stroke-width="3" />
<rect x="1628.0" y="239.0" width="79.0" height="46.0" fill="#000" stroke="#000" stroke-width="0" />
<rect x="1633.0" y="243.0" width="18.0" height="15.0" fill="#fff" stroke="#000" stroke-width="0" />
<rect x="1633.0" y="263.0" width="18.0" height="15.0" fill="#fff" stroke="#000" stroke-width="0" />
<rect x="1657.5" y="243.0" width="18.0" height="15.0" fill="#fff" stroke="#000" stroke-width="0" />
<rect x="1657.5" y="263.0" width="18.0" height="15.0" fill="#fff" stroke="#000" stroke-width="0" />
<rect x="1682.0" y="243.0" width="18.0" height="15.0" fill="#fff" stroke="#000" stroke-width="0" />
<rect x="1682.0" y="263.0" width="18.0" height="15.0" fill="#fff" stroke="#000" stroke-width="0" />
<rect x="1514.0" y="301.0" width="198.0" height="36.0" fill="#fff" stroke="#000" stroke-width="3" />
<rect x="1514.0" y="348.0" width="198.0" height="54.0" fill="#fff" stroke="#000" stroke-width="3" />
<rect x="1524.0" y="240.0" width="19.0" height="5.0" fill="#000" stroke="#000" stroke-width="0" />
<circle cx="1520" cy="243.0" r="2" fill="#000"/>
<rect x="1524.0" y="249.5" width="19.0" height="5.0" fill="#000" stroke="#000" stroke-width="0" />
<circle cx="1520" cy="252.5" r="2" fill="#000"/>
<rect x="1524.0" y="259.0" width="19.0" height="5.0" fill="#000" stroke="#000" stroke-width="0" />
<circle cx="1520" cy="262.0" r="2" fill="#000"/>
<rect x="1524.0" y="268.5" width="19.0" height="5.0" fill="#000" stroke="#000" stroke-width="0" />
<circle cx="1520" cy="271.5" r="2" fill="#000"/>
<rect x="1524.0" y="278.0" width="19.0" height="5.0" fill="#000" stroke="#000" stroke-width="0" />
<circle cx="1520" cy="281.0" r="2" fill="#000"/>
<rect x="1524.0" y="307.0" width="19.0" height="5.0" fill="#000" stroke="#000" stroke-width="0" />
<circle cx="1520" cy="310.0" r="2" fill="#000"/>
<rect x="1524.0" y="316.5" width="19.0" height="5.0" fill="#000" stroke="#000" stroke-width="0" />
<circle cx="1520" cy="319.5" r="2" fill="#000"/>
<rect x="1524.0" y="326.0" width="19.0" height="5.0" fill="#000" stroke="#000" stroke-width="0" />
<circle cx="1520" cy="329.0" r="2" fill="#000"/>
<rect x="1524.0" y="354.0" width="19.0" height="5.0" fill="#000" stroke="#000" stroke-width="0" />
<circle cx="1520" cy="357.0" r="2" fill="#000"/>
<rect x="1524.0" y="363.5" width="19.0" height="5.0" fill="#000" stroke="#000" stroke-width="0" />
<circle cx="1520" cy="366.5" r="2" fill="#000"/>
<rect x="1524.0" y="373.0" width="19.0" height="5.0" fill="#000" stroke="#000" stroke-width="0" />
<circle cx="1520" cy="376.0" r="2" fill="#000"/>
<rect x="1524.0" y="382.5" width="19.0" height="5.0" fill="#000" stroke="#000" stroke-width="0" />
<circle cx="1520" cy="385.5" r="2" fill="#000"/>
<rect x="1524.0" y="392.0" width="19.0" height="5.0" fill="#000" stroke="#000" stroke-width="0" />
<circle cx="1520" cy="395.0" r="2" fill="#000"/>
<rect x="1625.0" y="306.0" width="17.0" height="5.0" fill="#000" stroke="#000" stroke-width="0" />
<rect x="1625.0" y="314.0" width="17.0" height="5.0" fill="#000" stroke="#000" stroke-width="0" />
<rect x="1625.0" y="353.0" width="17.0" height="5.0" fill="#000" stroke="#000" stroke-width="0" />
<rect x="1625.0" y="361.0" width="17.0" height="5.0" fill="#000" stroke="#000" stroke-width="0" />
<rect x="1625.0" y="369.0" width="17.0" height="5.0" fill="#000" stroke="#000" stroke-width="0" />
<rect x="1621.0" y="382.0" width="31.0" height="5.0" fill="#000" stroke="#000" stroke-width="0" />
<rect x="1759.0" y="253.5" width="62.0" height="59.0" fill="#c0c0c0" stroke="#000" stroke-width="3" />
<rect x="1766.0" y="260.0" width="48.0" height="46.0" fill="#c0c0c0" stroke="#000" stroke-width="3" />
<path d="M1769,303 Q1773,270 1810,262" stroke="#000" stroke-width="2" fill="none" />
<rect x="1834.0" y="253.5" width="62.0" height="59.0" fill="#c0c0c0" stroke="#000" stroke-width="3" />
<rect x="1841.0" y="260.0" width="48.0" height="46.0" fill="#c0c0c0" stroke="#000" stroke-width="3" />
<path d="M1844,303 Q1848,270 1885,262" stroke="#000" stroke-width="2" fill="none" />
<circle cx="1949" cy="284.5" r="15" fill="#c0c0c0" stroke="#000" stroke-width="3"/>
<circle cx="1949" cy="284.5" r="6" fill="#fff" stroke="#000" stroke-width="3"/>
<rect x="1998.0" y="277.0" width="16.0" height="15.0" fill="#c0c0c0" stroke="#000" stroke-width="3" />
<rect x="1992.0" y="326.0" width="29.0" height="29.0" fill="#c0c0c0" stroke="#000" stroke-width="3" />
<rect x="1999.0" y="333.0" width="15.0" height="15.0" fill="#fff" stroke="#000" stroke-width="3" />
<rect x="1745.0" y="365.0" width="55.0" height="37.0" fill="#c0c0c0" stroke="#000" stroke-width="3" />
<rect x="1749.0" y="371.0" width="47.0" height="9.0" fill="#c0c0c0" stroke="#000" stroke-width="2" />
<circle cx="1758" cy="394" r="4" fill="#000"/><circle cx="1786" cy="394" r="4" fill="#000"/>
<rect x="1807.0" y="348.0" width="44.0" height="54.0" fill="#c0c0c0" stroke="#000" stroke-width="3" />
<rect x="1814.0" y="354.0" width="32.0" height="5.0" fill="#000" stroke="#000" stroke-width="0" />
<rect x="1814.0" y="363.0" width="32.0" height="5.0" fill="#000" stroke="#000" stroke-width="0" />
<rect x="1814.0" y="372.0" width="32.0" height="5.0" fill="#000" stroke="#000" stroke-width="0" />
<circle cx="1816" cy="394" r="4" fill="#000"/><circle cx="1840" cy="394" r="4" fill="#000"/>
<rect x="1489.5" y="433.0" width="48.0" height="41.0" fill="#fff" stroke="#000" stroke-width="3" />
<rect x="1496.5" y="438.0" width="8.0" height="31.0" fill="#000" stroke="#000" stroke-width="0" />
<rect x="1498.5" y="440.0" width="4.0" height="27.0" fill="#c0c0c0" stroke="#000" stroke-width="0" />
<rect x="1509.5" y="437.0" width="22.0" height="5.0" fill="#000" stroke="#000" stroke-width="0" />
<rect x="1517.5" y="437.0" width="7.0" height="29.0" fill="#000" stroke="#000" stroke-width="0" />
<circle cx="1521.0" cy="466" r="4" fill="#000"/>
<rect x="1554.2" y="433.0" width="48.0" height="41.0" fill="#fff" stroke="#000" stroke-width="3" />
<rect x="1561.2" y="438.0" width="8.0" height="31.0" fill="#000" stroke="#000" stroke-width="0" />
<rect x="1563.2" y="440.0" width="4.0" height="27.0" fill="#c0c0c0" stroke="#000" stroke-width="0" />
<rect x="1574.2" y="437.0" width="22.0" height="5.0" fill="#000" stroke="#000" stroke-width="0" />
<rect x="1582.2" y="437.0" width="7.0" height="29.0" fill="#000" stroke="#000" stroke-width="0" />
<circle cx="1585.7" cy="466" r="4" fill="#000"/>
<rect x="1618.9" y="433.0" width="48.0" height="41.0" fill="#fff" stroke="#000" stroke-width="3" />
<rect x="1625.9" y="438.0" width="8.0" height="31.0" fill="#000" stroke="#000" stroke-width="0" />
<rect x="1627.9" y="440.0" width="4.0" height="27.0" fill="#c0c0c0" stroke="#000" stroke-width="0" />
<rect x="1638.9" y="437.0" width="22.0" height="5.0" fill="#000" stroke="#000" stroke-width="0" />
<rect x="1646.9" y="437.0" width="7.0" height="29.0" fill="#000" stroke="#000" stroke-width="0" />
<circle cx="1650.4" cy="466" r="4" fill="#000"/>
<rect x="1683.6" y="433.0" width="48.0" height="41.0" fill="#fff" stroke="#000" stroke-width="3" />
<rect x="1690.6" y="438.0" width="8.0" height="31.0" fill="#000" stroke="#000" stroke-width="0" />
<rect x="1692.6" y="440.0" width="4.0" height="27.0" fill="#c0c0c0" stroke="#000" stroke-width="0" />
<rect x="1703.6" y="437.0" width="22.0" height="5.0" fill="#000" stroke="#000" stroke-width="0" />
<rect x="1711.6" y="437.0" width="7.0" height="29.0" fill="#000" stroke="#000" stroke-width="0" />
<circle cx="1715.1" cy="466" r="4" fill="#000"/>
<rect x="1748.3" y="433.0" width="48.0" height="41.0" fill="#fff" stroke="#000" stroke-width="3" />
<rect x="1755.3" y="438.0" width="8.0" height="31.0" fill="#000" stroke="#000" stroke-width="0" />
<rect x="1757.3" y="440.0" width="4.0" height="27.0" fill="#c0c0c0" stroke="#000" stroke-width="0" />
<rect x="1768.3" y="437.0" width="22.0" height="5.0" fill="#000" stroke="#000" stroke-width="0" />
<rect x="1776.3" y="437.0" width="7.0" height="29.0" fill="#000" stroke="#000" stroke-width="0" />
<circle cx="1779.8" cy="466" r="4" fill="#000"/>
<rect x="1813.0" y="433.0" width="48.0" height="41.0" fill="#fff" stroke="#000" stroke-width="3" />
<rect x="1820.0" y="438.0" width="8.0" height="31.0" fill="#000" stroke="#000" stroke-width="0" />
<rect x="1822.0" y="440.0" width="4.0" height="27.0" fill="#c0c0c0" stroke="#000" stroke-width="0" />
<rect x="1833.0" y="437.0" width="22.0" height="5.0" fill="#000" stroke="#000" stroke-width="0" />
<rect x="1841.0" y="437.0" width="7.0" height="29.0" fill="#000" stroke="#000" stroke-width="0" />
<circle cx="1844.5" cy="466" r="4" fill="#000"/>
<rect x="1877.7" y="433.0" width="48.0" height="41.0" fill="#fff" stroke="#000" stroke-width="3" />
<rect x="1884.7" y="438.0" width="8.0" height="31.0" fill="#000" stroke="#000" stroke-width="0" />
<rect x="1886.7" y="440.0" width="4.0" height="27.0" fill="#c0c0c0" stroke="#000" stroke-width="0" />
<rect x="1897.7" y="437.0" width="22.0" height="5.0" fill="#000" stroke="#000" stroke-width="0" />
<rect x="1905.7" y="437.0" width="7.0" height="29.0" fill="#000" stroke="#000" stroke-width="0" />
<circle cx="1909.2" cy="466" r="4" fill="#000"/>
<rect x="1942.4" y="433.0" width="48.0" height="41.0" fill="#fff" stroke="#000" stroke-width="3" />
<rect x="1949.4" y="438.0" width="8.0" height="31.0" fill="#000" stroke="#000" stroke-width="0" />
<rect x="1951.4" y="440.0" width="4.0" height="27.0" fill="#c0c0c0" stroke="#000" stroke-width="0" />
<rect x="1962.4" y="437.0" width="22.0" height="5.0" fill="#000" stroke="#000" stroke-width="0" />
<rect x="1970.4" y="437.0" width="7.0" height="29.0" fill="#000" stroke="#000" stroke-width="0" />
<circle cx="1973.9" cy="466" r="4" fill="#000"/>
</g>
<g id="manifold">
<line x1="1538.5" y1="790.0" x2="1538.5" y2="848.0" stroke="#000" stroke-width="2.5"/>
<line x1="1597.3" y1="790.0" x2="1597.3" y2="848.0" stroke="#000" stroke-width="2.5"/>
<line x1="1656.1" y1="790.0" x2="1656.1" y2="848.0" stroke="#000" stroke-width="2.5"/>
<line x1="1714.9" y1="790.0" x2="1714.9" y2="848.0" stroke="#000" stroke-width="2.5"/>
<line x1="1773.7" y1="790.0" x2="1773.7" y2="848.0" stroke="#000" stroke-width="2.5"/>
<line x1="1832.5" y1="790.0" x2="1832.5" y2="848.0" stroke="#000" stroke-width="2.5"/>
<line x1="1891.3" y1="790.0" x2="1891.3" y2="848.0" stroke="#000" stroke-width="2.5"/>
<line x1="1950.1" y1="790.0" x2="1950.1" y2="848.0" stroke="#000" stroke-width="2.5"/>
<rect x="1336.0" y="904.0" width="662.5" height="88.5" fill="#c0c0c0" stroke="#000" stroke-width="3" />
<rect x="1532.5" y="848.0" width="12.0" height="15.0" fill="#c0c0c0" stroke="#000" stroke-width="2.5" />
<rect x="1520.5" y="863.0" width="36.0" height="49.5" fill="#c0c0c0" stroke="#000" stroke-width="3" />
<rect x="1529.5" y="868.0" width="18.0" height="12.0" fill="#c0c0c0" stroke="#000" stroke-width="2.5" />
<rect x="1529.5" y="880.0" width="18.0" height="15.0" fill="#c0c0c0" stroke="#000" stroke-width="2.5" />
<rect x="1515.0" y="912.5" width="47.0" height="70.0" fill="#c0c0c0" stroke="#000" stroke-width="3" />
<circle cx="1524.5" cy="922.5" r="3.5" fill="#000"/>
<circle cx="1552.5" cy="922.5" r="3.5" fill="#000"/>
<circle cx="1524.5" cy="969.5" r="3.5" fill="#000"/>
<circle cx="1552.5" cy="969.5" r="3.5" fill="#000"/>
<rect x="1531.5" y="995.0" width="14.0" height="30.0" fill="#c0c0c0" stroke="#000" stroke-width="2.5" />
<rect x="1534.0" y="1025.0" width="9.0" height="12.0" fill="#c0c0c0" stroke="#000" stroke-width="2.5" />
<rect x="1591.3" y="848.0" width="12.0" height="15.0" fill="#c0c0c0" stroke="#000" stroke-width="2.5" />
<rect x="1579.3" y="863.0" width="36.0" height="49.5" fill="#c0c0c0" stroke="#000" stroke-width="3" />
<rect x="1588.3" y="868.0" width="18.0" height="12.0" fill="#c0c0c0" stroke="#000" stroke-width="2.5" />
<rect x="1588.3" y="880.0" width="18.0" height="15.0" fill="#c0c0c0" stroke="#000" stroke-width="2.5" />
<rect x="1573.8" y="912.5" width="47.0" height="70.0" fill="#c0c0c0" stroke="#000" stroke-width="3" />
<circle cx="1583.3" cy="922.5" r="3.5" fill="#000"/>
<circle cx="1611.3" cy="922.5" r="3.5" fill="#000"/>
<circle cx="1583.3" cy="969.5" r="3.5" fill="#000"/>
<circle cx="1611.3" cy="969.5" r="3.5" fill="#000"/>
<rect x="1590.3" y="995.0" width="14.0" height="30.0" fill="#c0c0c0" stroke="#000" stroke-width="2.5" />
<rect x="1592.8" y="1025.0" width="9.0" height="12.0" fill="#c0c0c0" stroke="#000" stroke-width="2.5" />
<rect x="1650.1" y="848.0" width="12.0" height="15.0" fill="#c0c0c0" stroke="#000" stroke-width="2.5" />
<rect x="1638.1" y="863.0" width="36.0" height="49.5" fill="#c0c0c0" stroke="#000" stroke-width="3" />
<rect x="1647.1" y="868.0" width="18.0" height="12.0" fill="#c0c0c0" stroke="#000" stroke-width="2.5" />
<rect x="1647.1" y="880.0" width="18.0" height="15.0" fill="#c0c0c0" stroke="#000" stroke-width="2.5" />
<rect x="1632.6" y="912.5" width="47.0" height="70.0" fill="#c0c0c0" stroke="#000" stroke-width="3" />
<circle cx="1642.1" cy="922.5" r="3.5" fill="#000"/>
<circle cx="1670.1" cy="922.5" r="3.5" fill="#000"/>
<circle cx="1642.1" cy="969.5" r="3.5" fill="#000"/>
<circle cx="1670.1" cy="969.5" r="3.5" fill="#000"/>
<rect x="1649.1" y="995.0" width="14.0" height="30.0" fill="#c0c0c0" stroke="#000" stroke-width="2.5" />
<rect x="1651.6" y="1025.0" width="9.0" height="12.0" fill="#c0c0c0" stroke="#000" stroke-width="2.5" />
<rect x="1708.9" y="848.0" width="12.0" height="15.0" fill="#c0c0c0" stroke="#000" stroke-width="2.5" />
<rect x="1696.9" y="863.0" width="36.0" height="49.5" fill="#c0c0c0" stroke="#000" stroke-width="3" />
<rect x="1705.9" y="868.0" width="18.0" height="12.0" fill="#c0c0c0" stroke="#000" stroke-width="2.5" />
<rect x="1705.9" y="880.0" width="18.0" height="15.0" fill="#c0c0c0" stroke="#000" stroke-width="2.5" />
<rect x="1691.4" y="912.5" width="47.0" height="70.0" fill="#c0c0c0" stroke="#000" stroke-width="3" />
<circle cx="1700.9" cy="922.5" r="3.5" fill="#000"/>
<circle cx="1728.9" cy="922.5" r="3.5" fill="#000"/>
<circle cx="1700.9" cy="969.5" r="3.5" fill="#000"/>
<circle cx="1728.9" cy="969.5" r="3.5" fill="#000"/>
<rect x="1707.9" y="995.0" width="14.0" height="30.0" fill="#c0c0c0" stroke="#000" stroke-width="2.5" />
<rect x="1710.4" y="1025.0" width="9.0" height="12.0" fill="#c0c0c0" stroke="#000" stroke-width="2.5" />
<rect x="1767.7" y="848.0" width="12.0" height="15.0" fill="#c0c0c0" stroke="#000" stroke-width="2.5" />
<rect x="1755.7" y="863.0" width="36.0" height="49.5" fill="#c0c0c0" stroke="#000" stroke-width="3" />
<rect x="1764.7" y="868.0" width="18.0" height="12.0" fill="#c0c0c0" stroke="#000" stroke-width="2.5" />
<rect x="1764.7" y="880.0" width="18.0" height="15.0" fill="#c0c0c0" stroke="#000" stroke-width="2.5" />
<rect x="1750.2" y="912.5" width="47.0" height="70.0" fill="#c0c0c0" stroke="#000" stroke-width="3" />
<circle cx="1759.7" cy="922.5" r="3.5" fill="#000"/>
<circle cx="1787.7" cy="922.5" r="3.5" fill="#000"/>
<circle cx="1759.7" cy="969.5" r="3.5" fill="#000"/>
<circle cx="1787.7" cy="969.5" r="3.5" fill="#000"/>
<rect x="1766.7" y="995.0" width="14.0" height="30.0" fill="#c0c0c0" stroke="#000" stroke-width="2.5" />
<rect x="1769.2" y="1025.0" width="9.0" height="12.0" fill="#c0c0c0" stroke="#000" stroke-width="2.5" />
<rect x="1826.5" y="848.0" width="12.0" height="15.0" fill="#c0c0c0" stroke="#000" stroke-width="2.5" />
<rect x="1814.5" y="863.0" width="36.0" height="49.5" fill="#c0c0c0" stroke="#000" stroke-width="3" />
<rect x="1823.5" y="868.0" width="18.0" height="12.0" fill="#c0c0c0" stroke="#000" stroke-width="2.5" />
<rect x="1823.5" y="880.0" width="18.0" height="15.0" fill="#c0c0c0" stroke="#000" stroke-width="2.5" />
<rect x="1809.0" y="912.5" width="47.0" height="70.0" fill="#c0c0c0" stroke="#000" stroke-width="3" />
<circle cx="1818.5" cy="922.5" r="3.5" fill="#000"/>
<circle cx="1846.5" cy="922.5" r="3.5" fill="#000"/>
<circle cx="1818.5" cy="969.5" r="3.5" fill="#000"/>
<circle cx="1846.5" cy="969.5" r="3.5" fill="#000"/>
<rect x="1825.5" y="995.0" width="14.0" height="30.0" fill="#c0c0c0" stroke="#000" stroke-width="2.5" />
<rect x="1828.0" y="1025.0" width="9.0" height="12.0" fill="#c0c0c0" stroke="#000" stroke-width="2.5" />
<rect x="1885.3" y="848.0" width="12.0" height="15.0" fill="#c0c0c0" stroke="#000" stroke-width="2.5" />
<rect x="1873.3" y="863.0" width="36.0" height="49.5" fill="#c0c0c0" stroke="#000" stroke-width="3" />
<rect x="1882.3" y="868.0" width="18.0" height="12.0" fill="#c0c0c0" stroke="#000" stroke-width="2.5" />
<rect x="1882.3" y="880.0" width="18.0" height="15.0" fill="#c0c0c0" stroke="#000" stroke-width="2.5" />
<rect x="1867.8" y="912.5" width="47.0" height="70.0" fill="#c0c0c0" stroke="#000" stroke-width="3" />
<circle cx="1877.3" cy="922.5" r="3.5" fill="#000"/>
<circle cx="1905.3" cy="922.5" r="3.5" fill="#000"/>
<circle cx="1877.3" cy="969.5" r="3.5" fill="#000"/>
<circle cx="1905.3" cy="969.5" r="3.5" fill="#000"/>
<rect x="1884.3" y="995.0" width="14.0" height="30.0" fill="#c0c0c0" stroke="#000" stroke-width="2.5" />
<rect x="1886.8" y="1025.0" width="9.0" height="12.0" fill="#c0c0c0" stroke="#000" stroke-width="2.5" />
<rect x="1944.1" y="848.0" width="12.0" height="15.0" fill="#c0c0c0" stroke="#000" stroke-width="2.5" />
<rect x="1932.1" y="863.0" width="36.0" height="49.5" fill="#c0c0c0" stroke="#000" stroke-width="3" />
<rect x="1941.1" y="868.0" width="18.0" height="12.0" fill="#c0c0c0" stroke="#000" stroke-width="2.5" />
<rect x="1941.1" y="880.0" width="18.0" height="15.0" fill="#c0c0c0" stroke="#000" stroke-width="2.5" />
<rect x="1926.6" y="912.5" width="47.0" height="70.0" fill="#c0c0c0" stroke="#000" stroke-width="3" />
<circle cx="1936.1" cy="922.5" r="3.5" fill="#000"/>
<circle cx="1964.1" cy="922.5" r="3.5" fill="#000"/>
<circle cx="1936.1" cy="969.5" r="3.5" fill="#000"/>
<circle cx="1964.1" cy="969.5" r="3.5" fill="#000"/>
<rect x="1943.1" y="995.0" width="14.0" height="30.0" fill="#c0c0c0" stroke="#000" stroke-width="2.5" />
<rect x="1945.6" y="1025.0" width="9.0" height="12.0" fill="#c0c0c0" stroke="#000" stroke-width="2.5" />
<rect x="1392.0" y="917.0" width="24.0" height="25.0" fill="#c0c0c0" stroke="#000" stroke-width="3" />
<rect x="1359.0" y="942.0" width="84.0" height="40.0" fill="#c0c0c0" stroke="#000" stroke-width="3" />
<path d="M1368,982 V1085 Q1368,1117 1401,1117 Q1434,1117 1434,1085 V982" stroke="#000" stroke-width="3" fill="#c0c0c0" />
<line x1="1368.0" y1="1085.0" x2="1434.0" y2="1085.0" stroke="#000" stroke-width="3"/>
</g>
<g id="smallpump">
<path d="M1198,1906 V1825 Q1198,1818 1205,1818 L1208,1815 H1225 L1228,1818 Q1233,1818 1233,1825 V1906 Z" stroke="#000" stroke-width="3" fill="#c0c0c0" />
<rect x="1166.0" y="1906.5" width="125.0" height="20.5" fill="#c0c0c0" stroke="#000" stroke-width="3" />
<line x1="1170.0" y1="1906.5" x2="1170.0" y2="1927.0" stroke="#000" stroke-width="2"/>
<line x1="1180.0" y1="1906.5" x2="1180.0" y2="1927.0" stroke="#000" stroke-width="2"/>
<line x1="1236.0" y1="1906.5" x2="1236.0" y2="1927.0" stroke="#000" stroke-width="2"/>
<line x1="1248.0" y1="1906.5" x2="1248.0" y2="1927.0" stroke="#000" stroke-width="2"/>
<line x1="1262.0" y1="1906.5" x2="1262.0" y2="1927.0" stroke="#000" stroke-width="2"/>
<line x1="1275.0" y1="1906.5" x2="1275.0" y2="1927.0" stroke="#000" stroke-width="2"/>
<line x1="1289.0" y1="1906.5" x2="1289.0" y2="1927.0" stroke="#000" stroke-width="2"/>
<line x1="1251.0" y1="1900.0" x2="1280.0" y2="1900.0" stroke="#000" stroke-width="4"/>
<rect x="1097.5" y="1856.0" width="95.5" height="68.0" fill="#c0c0c0" stroke="#000" stroke-width="3" />
<circle cx="1105" cy="1865" r="2.5" fill="#000"/><circle cx="1186" cy="1865" r="2.5" fill="#000"/><circle cx="1105" cy="1916" r="2.5" fill="#000"/>
<path d="M1112,1850 L1179,1850 L1169,1895 L1124,1895 Z" stroke="#000" stroke-width="3" fill="#c0c0c0" />
<rect x="1123.0" y="1895.0" width="46.0" height="7.0" fill="#000" stroke="#000" stroke-width="0" />
<rect x="1125.0" y="1902.0" width="41.0" height="81.0" fill="#c0c0c0" stroke="#000" stroke-width="3" />
<rect x="1166.0" y="1956.0" width="11.0" height="22.0" fill="#c0c0c0" stroke="#000" stroke-width="2.5" />
<rect x="1108.5" y="1845.0" width="73.5" height="5.0" fill="#000" stroke="#000" stroke-width="0" />
<rect x="1118.0" y="1838.0" width="56.0" height="7.0" fill="#c0c0c0" stroke="#000" stroke-width="2.5" />
<path d="M1111.5,1838 V1765 H1180 V1838 Z" stroke="#000" stroke-width="3" fill="#c0c0c0" />
<line x1="1123.5" y1="1771.0" x2="1123.5" y2="1836.0" stroke="#000" stroke-width="3"/>
<line x1="1137.5" y1="1771.0" x2="1137.5" y2="1836.0" stroke="#000" stroke-width="3"/>
<line x1="1153.5" y1="1771.0" x2="1153.5" y2="1836.0" stroke="#000" stroke-width="3"/>
<line x1="1170.5" y1="1771.0" x2="1170.5" y2="1836.0" stroke="#000" stroke-width="3"/>
<line x1="1111.5" y1="1770.0" x2="1180.0" y2="1770.0" stroke="#000" stroke-width="3"/>
<path d="M1113.5,1765 V1758 Q1113.5,1745 1126,1745 H1166 Q1179,1745 1179,1758 V1765 Z" stroke="#000" stroke-width="3" fill="#c0c0c0" />
</g>
<g transform="translate(0,0)">
<rect x="1631.0" y="1584.5" width="24.0" height="8.5" fill="#c0c0c0" stroke="#000" stroke-width="3" />
<rect x="1631.0" y="1707.0" width="24.0" height="10.0" fill="#c0c0c0" stroke="#000" stroke-width="3" />
<rect x="1606" y="1592" width="73.5" height="116" rx="12" fill="#c0c0c0" stroke="#000" stroke-width="3"/>
<rect x="1634.0" y="1612.0" width="14.5" height="46.0" fill="#c0c0c0" stroke="#000" stroke-width="3" />
</g>
<path d="M1643,1717 V1727 Q1643,1735 1652,1735 H1712" stroke="#000" stroke-width="8" fill="none" />
<path d="M1643,1717 V1727 Q1643,1735 1652,1735 H1712" stroke="#c0c0c0" stroke-width="3" fill="none" />
<g transform="translate(0,0)">
<rect x="1734.0" y="1606.5" width="28.7" height="24.5" fill="#000" stroke="#000" stroke-width="2" />
<rect x="1737.0" y="1613.0" width="8.0" height="10.0" fill="#ddd" stroke="#000" stroke-width="0" />
<rect x="1751.0" y="1613.0" width="8.0" height="10.0" fill="#ddd" stroke="#000" stroke-width="0" />
<rect x="1728.5" y="1631.0" width="40.0" height="23.0" fill="#c0c0c0" stroke="#000" stroke-width="3" />
<rect x="1712.0" y="1654.0" width="72.0" height="89.0" fill="#c0c0c0" stroke="#000" stroke-width="3" />
<rect x="1728.5" y="1654.0" width="40.0" height="72.0" fill="#000" stroke="#000" stroke-width="0" />
<rect x="1731.0" y="1657.0" width="35.0" height="4.0" fill="#c0c0c0" stroke="#000" stroke-width="0" />
<rect x="1731.0" y="1716.0" width="35.0" height="6.0" fill="#c0c0c0" stroke="#000" stroke-width="0" />
<circle cx="1743" cy="1668" r="1.6" fill="#ddd"/>
<circle cx="1754" cy="1668" r="1.6" fill="#ddd"/>
<circle cx="1748" cy="1679" r="1.6" fill="#ddd"/>
<circle cx="1748" cy="1703" r="1.6" fill="#ddd"/>
<circle cx="1732" cy="1703" r="1.6" fill="#ddd"/>
<circle cx="1765" cy="1703" r="1.6" fill="#ddd"/>
<circle cx="1743" cy="1711" r="1.6" fill="#ddd"/>
<circle cx="1754" cy="1711" r="1.6" fill="#ddd"/>
<path d="M1740,1690 L1748,1694 L1757,1690" stroke="#ddd" stroke-width="1.5" fill="none" />
</g>
<g transform="translate(0,0)">
<rect x="1790.0" y="1695.0" width="53.5" height="41.0" fill="#c0c0c0" stroke="#000" stroke-width="3" />
<rect x="1789.0" y="1736.0" width="67.0" height="9.0" fill="#c0c0c0" stroke="#000" stroke-width="3" />
<rect x="1645.0" y="1745.0" width="243.0" height="10.0" fill="#c0c0c0" stroke="#000" stroke-width="3" />
<rect x="1645.0" y="1755.0" width="22.0" height="9.0" fill="#c0c0c0" stroke="#000" stroke-width="3" />
<rect x="1866.0" y="1755.0" width="22.0" height="9.0" fill="#c0c0c0" stroke="#000" stroke-width="3" />
<rect x="1658.5" y="1755.0" width="215.5" height="94.0" fill="#c0c0c0" stroke="#000" stroke-width="3" />
<line x1="1667.0" y1="1755.0" x2="1667.0" y2="1849.0" stroke="#000" stroke-width="3"/>
<line x1="1865.0" y1="1755.0" x2="1865.0" y2="1849.0" stroke="#000" stroke-width="3"/>
<line x1="1751.0" y1="1755.0" x2="1751.0" y2="1849.0" stroke="#000" stroke-width="3"/>
<line x1="1776.0" y1="1755.0" x2="1776.0" y2="1849.0" stroke="#000" stroke-width="3"/>
</g>
<g transform="translate(353.5,0)">
<rect x="1631.0" y="1584.5" width="24.0" height="8.5" fill="#c0c0c0" stroke="#000" stroke-width="3" />
<rect x="1631.0" y="1707.0" width="24.0" height="10.0" fill="#c0c0c0" stroke="#000" stroke-width="3" />
<rect x="1606" y="1592" width="73.5" height="116" rx="12" fill="#c0c0c0" stroke="#000" stroke-width="3"/>
<rect x="1634.0" y="1612.0" width="14.5" height="46.0" fill="#c0c0c0" stroke="#000" stroke-width="3" />
</g>
<path d="M1996.5,1717 V1727 Q1996.5,1735 2005.5,1735 H2065.5" stroke="#000" stroke-width="8" fill="none" />
<path d="M1996.5,1717 V1727 Q1996.5,1735 2005.5,1735 H2065.5" stroke="#c0c0c0" stroke-width="3" fill="none" />
<g transform="translate(353.5,0)">
<rect x="1734.0" y="1606.5" width="28.7" height="24.5" fill="#000" stroke="#000" stroke-width="2" />
<rect x="1737.0" y="1613.0" width="8.0" height="10.0" fill="#ddd" stroke="#000" stroke-width="0" />
<rect x="1751.0" y="1613.0" width="8.0" height="10.0" fill="#ddd" stroke="#000" stroke-width="0" />
<rect x="1728.5" y="1631.0" width="40.0" height="23.0" fill="#c0c0c0" stroke="#000" stroke-width="3" />
<rect x="1712.0" y="1654.0" width="72.0" height="89.0" fill="#c0c0c0" stroke="#000" stroke-width="3" />
<rect x="1728.5" y="1654.0" width="40.0" height="72.0" fill="#000" stroke="#000" stroke-width="0" />
<rect x="1731.0" y="1657.0" width="35.0" height="4.0" fill="#c0c0c0" stroke="#000" stroke-width="0" />
<rect x="1731.0" y="1716.0" width="35.0" height="6.0" fill="#c0c0c0" stroke="#000" stroke-width="0" />
<circle cx="1743" cy="1668" r="1.6" fill="#ddd"/>
<circle cx="1754" cy="1668" r="1.6" fill="#ddd"/>
<circle cx="1748" cy="1679" r="1.6" fill="#ddd"/>
<circle cx="1748" cy="1703" r="1.6" fill="#ddd"/>
<circle cx="1732" cy="1703" r="1.6" fill="#ddd"/>
<circle cx="1765" cy="1703" r="1.6" fill="#ddd"/>
<circle cx="1743" cy="1711" r="1.6" fill="#ddd"/>
<circle cx="1754" cy="1711" r="1.6" fill="#ddd"/>
<path d="M1740,1690 L1748,1694 L1757,1690" stroke="#ddd" stroke-width="1.5" fill="none" />
</g>
<g transform="translate(353.5,0)">
<rect x="1790.0" y="1695.0" width="53.5" height="41.0" fill="#c0c0c0" stroke="#000" stroke-width="3" />
<rect x="1789.0" y="1736.0" width="67.0" height="9.0" fill="#c0c0c0" stroke="#000" stroke-width="3" />
<rect x="1645.0" y="1745.0" width="243.0" height="10.0" fill="#c0c0c0" stroke="#000" stroke-width="3" />
<rect x="1645.0" y="1755.0" width="22.0" height="9.0" fill="#c0c0c0" stroke="#000" stroke-width="3" />
<rect x="1866.0" y="1755.0" width="22.0" height="9.0" fill="#c0c0c0" stroke="#000" stroke-width="3" />
<rect x="1658.5" y="1755.0" width="215.5" height="94.0" fill="#c0c0c0" stroke="#000" stroke-width="3" />
<line x1="1667.0" y1="1755.0" x2="1667.0" y2="1849.0" stroke="#000" stroke-width="3"/>
<line x1="1865.0" y1="1755.0" x2="1865.0" y2="1849.0" stroke="#000" stroke-width="3"/>
<line x1="1751.0" y1="1755.0" x2="1751.0" y2="1849.0" stroke="#000" stroke-width="3"/>
<line x1="1776.0" y1="1755.0" x2="1776.0" y2="1849.0" stroke="#000" stroke-width="3"/>
</g>
<g transform="translate(732.5,0)">
<rect x="1631.0" y="1584.5" width="24.0" height="8.5" fill="#c0c0c0" stroke="#000" stroke-width="3" />
<rect x="1631.0" y="1707.0" width="24.0" height="10.0" fill="#c0c0c0" stroke="#000" stroke-width="3" />
<rect x="1606" y="1592" width="73.5" height="116" rx="12" fill="#c0c0c0" stroke="#000" stroke-width="3"/>
<rect x="1634.0" y="1612.0" width="14.5" height="46.0" fill="#c0c0c0" stroke="#000" stroke-width="3" />
</g>
<path d="M2375.5,1717 V1727 Q2375.5,1735 2384.5,1735 H2421" stroke="#000" stroke-width="8" fill="none" />
<path d="M2375.5,1717 V1727 Q2375.5,1735 2384.5,1735 H2421" stroke="#c0c0c0" stroke-width="3" fill="none" />
<g transform="translate(709,0)">
<rect x="1734.0" y="1606.5" width="28.7" height="24.5" fill="#000" stroke="#000" stroke-width="2" />
<rect x="1737.0" y="1613.0" width="8.0" height="10.0" fill="#ddd" stroke="#000" stroke-width="0" />
<rect x="1751.0" y="1613.0" width="8.0" height="10.0" fill="#ddd" stroke="#000" stroke-width="0" />
<rect x="1728.5" y="1631.0" width="40.0" height="23.0" fill="#c0c0c0" stroke="#000" stroke-width="3" />
<rect x="1712.0" y="1654.0" width="72.0" height="89.0" fill="#c0c0c0" stroke="#000" stroke-width="3" />
<rect x="1728.5" y="1654.0" width="40.0" height="72.0" fill="#000" stroke="#000" stroke-width="0" />
<rect x="1731.0" y="1657.0" width="35.0" height="4.0" fill="#c0c0c0" stroke="#000" stroke-width="0" />
<rect x="1731.0" y="1716.0" width="35.0" height="6.0" fill="#c0c0c0" stroke="#000" stroke-width="0" />
<circle cx="1743" cy="1668" r="1.6" fill="#ddd"/>
<circle cx="1754" cy="1668" r="1.6" fill="#ddd"/>
<circle cx="1748" cy="1679" r="1.6" fill="#ddd"/>
<circle cx="1748" cy="1703" r="1.6" fill="#ddd"/>
<circle cx="1732" cy="1703" r="1.6" fill="#ddd"/>
<circle cx="1765" cy="1703" r="1.6" fill="#ddd"/>
<circle cx="1743" cy="1711" r="1.6" fill="#ddd"/>
<circle cx="1754" cy="1711" r="1.6" fill="#ddd"/>
<path d="M1740,1690 L1748,1694 L1757,1690" stroke="#ddd" stroke-width="1.5" fill="none" />
</g>
<g transform="translate(689,0)">
<rect x="1823.0" y="1676.0" width="42.0" height="69.0" fill="#c0c0c0" stroke="#000" stroke-width="3" />
<rect x="1645.0" y="1745.0" width="243.0" height="10.0" fill="#c0c0c0" stroke="#000" stroke-width="3" />
<rect x="1645.0" y="1755.0" width="22.0" height="9.0" fill="#c0c0c0" stroke="#000" stroke-width="3" />
<rect x="1866.0" y="1755.0" width="22.0" height="9.0" fill="#c0c0c0" stroke="#000" stroke-width="3" />
<rect x="1658.5" y="1755.0" width="215.5" height="94.0" fill="#c0c0c0" stroke="#000" stroke-width="3" />
<line x1="1667.0" y1="1755.0" x2="1667.0" y2="1849.0" stroke="#000" stroke-width="3"/>
<line x1="1865.0" y1="1755.0" x2="1865.0" y2="1849.0" stroke="#000" stroke-width="3"/>
</g>
<g transform="translate(0,0)">
<rect x="1751.0" y="1849.0" width="25.0" height="483.0" fill="#c0c0c0" stroke="#000" stroke-width="3" />
<rect x="1748.0" y="2332.0" width="40.0" height="122.0" fill="#c0c0c0" stroke="#000" stroke-width="3" />
<line x1="1748.0" y1="2334.0" x2="1776.0" y2="2334.0" stroke="#000" stroke-width="4"/>
<rect x="1795.5" y="1755.0" width="44.5" height="482.0" fill="#c0c0c0" stroke="#000" stroke-width="3" />
<rect x="1789.0" y="2236.0" width="54.5" height="7.0" fill="#c0c0c0" stroke="#000" stroke-width="3" />
<rect x="1797.0" y="2243.0" width="44.0" height="23.0" fill="#c0c0c0" stroke="#000" stroke-width="0" />
<path d="M1797,2243 V2266 M1841,2243 V2262" stroke="#000" stroke-width="3" fill="none" />
<path d="M1800,2275 Q1803,2263 1815,2263 L1830,2263 Q1837,2266 1834,2278 L1801,2483 L1782,2483 Z" stroke="#000" stroke-width="2.5" fill="#c0c0c0" />
<path d="M1813,2385 L1828,2402 V2483 H1813 Z" stroke="#000" stroke-width="2.5" fill="#c0c0c0" />
<rect x="1714.5" y="2453.0" width="153.0" height="7.0" fill="#c0c0c0" stroke="#000" stroke-width="3" />
<rect x="1719.0" y="2460.0" width="142.0" height="7.0" fill="#e8e8e8" stroke="#000" stroke-width="2" />
<rect x="1719.0" y="2467.0" width="142.0" height="17.0" fill="#c0c0c0" stroke="#000" stroke-width="3" />
<line x1="1709.0" y1="2494.5" x2="1873.5" y2="2494.5" stroke="#000" stroke-width="5"/>
<rect x="1748.0" y="2453.0" width="40.0" height="31.0" fill="#c0c0c0" stroke="#000" stroke-width="0" />
<line x1="1748.0" y1="2453.0" x2="1748.0" y2="2484.0" stroke="#000" stroke-width="3"/>
<path d="M1775,2497 L1783,2511 L1805,2511 L1810,2497" stroke="#000" stroke-width="2.5" fill="#c0c0c0" />
<rect x="1740.5" y="2511.0" width="102.5" height="17.0" fill="#c0c0c0" stroke="#000" stroke-width="3" />
<path d="M1765,2528 L1770,2536 L1812,2536 L1817,2528 Z" stroke="#000" stroke-width="2" fill="#000" />
<path d="M1784,2484 V2497 Q1782,2510 1762,2513 L1752,2513 L1752,2526 L1768,2526 Q1800,2520 1801,2497 V2484 Z" stroke="#000" stroke-width="2" fill="#c0c0c0" />
</g>
<g transform="translate(353.5,0)">
<rect x="1751.0" y="1849.0" width="25.0" height="483.0" fill="#c0c0c0" stroke="#000" stroke-width="3" />
<rect x="1748.0" y="2332.0" width="40.0" height="122.0" fill="#c0c0c0" stroke="#000" stroke-width="3" />
<line x1="1748.0" y1="2334.0" x2="1776.0" y2="2334.0" stroke="#000" stroke-width="4"/>
<rect x="1795.5" y="1755.0" width="44.5" height="482.0" fill="#c0c0c0" stroke="#000" stroke-width="3" />
<rect x="1789.0" y="2236.0" width="54.5" height="7.0" fill="#c0c0c0" stroke="#000" stroke-width="3" />
<rect x="1797.0" y="2243.0" width="44.0" height="23.0" fill="#c0c0c0" stroke="#000" stroke-width="0" />
<path d="M1797,2243 V2266 M1841,2243 V2262" stroke="#000" stroke-width="3" fill="none" />
<path d="M1800,2275 Q1803,2263 1815,2263 L1830,2263 Q1837,2266 1834,2278 L1801,2483 L1782,2483 Z" stroke="#000" stroke-width="2.5" fill="#c0c0c0" />
<path d="M1813,2385 L1828,2402 V2483 H1813 Z" stroke="#000" stroke-width="2.5" fill="#c0c0c0" />
<rect x="1714.5" y="2453.0" width="153.0" height="7.0" fill="#c0c0c0" stroke="#000" stroke-width="3" />
<rect x="1719.0" y="2460.0" width="142.0" height="7.0" fill="#e8e8e8" stroke="#000" stroke-width="2" />
<rect x="1719.0" y="2467.0" width="142.0" height="17.0" fill="#c0c0c0" stroke="#000" stroke-width="3" />
<line x1="1709.0" y1="2494.5" x2="1873.5" y2="2494.5" stroke="#000" stroke-width="5"/>
<rect x="1748.0" y="2453.0" width="40.0" height="31.0" fill="#c0c0c0" stroke="#000" stroke-width="0" />
<line x1="1748.0" y1="2453.0" x2="1748.0" y2="2484.0" stroke="#000" stroke-width="3"/>
<path d="M1775,2497 L1783,2511 L1805,2511 L1810,2497" stroke="#000" stroke-width="2.5" fill="#c0c0c0" />
<rect x="1740.5" y="2511.0" width="102.5" height="17.0" fill="#c0c0c0" stroke="#000" stroke-width="3" />
<path d="M1765,2528 L1770,2536 L1812,2536 L1817,2528 Z" stroke="#000" stroke-width="2" fill="#000" />
<path d="M1784,2484 V2497 Q1782,2510 1762,2513 L1752,2513 L1752,2526 L1768,2526 Q1800,2520 1801,2497 V2484 Z" stroke="#000" stroke-width="2" fill="#c0c0c0" />
</g>
<g>
<path d="M2424.5,1755 L2488.5,1755 L2474.5,1779 L2436,1779 Z" stroke="#000" stroke-width="3" fill="#c0c0c0" />
<rect x="2436.0" y="1779.0" width="38.5" height="526.0" fill="#c0c0c0" stroke="#000" stroke-width="3" />
<path d="M2531,1755 V1878 L2505,1947 V2305" stroke="#000" stroke-width="10" fill="none" stroke-linejoin="round"/>
<path d="M2531,1755 V1878 L2505,1947 V2305" stroke="#c0c0c0" stroke-width="4" fill="none" stroke-linejoin="round"/>
<rect x="2417.0" y="2303.0" width="70.0" height="6.0" fill="#c0c0c0" stroke="#000" stroke-width="3" />
<path d="M2417.5,2309 H2517.8 L2543.5,2428 H2417.5 Z" stroke="#000" stroke-width="3" fill="#c0c0c0" />
<path d="M2388.8,2428 H2543.5 V2520 H2388.8 Z" stroke="#000" stroke-width="3" fill="#c0c0c0" />
<path d="M2380,2345 L2405,2336 Q2432,2350 2432,2385 Q2430,2412 2405,2426 L2380,2426 Z" stroke="#000" stroke-width="3" fill="#c0c0c0" />
<rect x="2373.0" y="2334.0" width="7.0" height="98.0" fill="#c0c0c0" stroke="#000" stroke-width="3" />
<rect x="2543.5" y="2420.0" width="22.5" height="76.0" fill="#c0c0c0" stroke="#000" stroke-width="3" />
<rect x="2566.0" y="2414.0" width="8.0" height="88.0" fill="#c0c0c0" stroke="#000" stroke-width="3" />
<line x1="2422.0" y1="2474.0" x2="2422.0" y2="2520.0" stroke="#000" stroke-width="3"/>
<line x1="2470.5" y1="2474.0" x2="2470.5" y2="2520.0" stroke="#000" stroke-width="3"/>
<line x1="2515.7" y1="2474.0" x2="2515.7" y2="2520.0" stroke="#000" stroke-width="3"/>
<circle cx="2445" cy="2488" r="10" fill="#c0c0c0" stroke="#000" stroke-width="3"/>
<path d="M2582,1548 V1722 H2532" stroke="#000" stroke-width="6" fill="none" stroke-linejoin="miter"/>
</g>
<g id="pump4">
<rect x="2731.5" y="1676.0" width="17.0" height="24.0" fill="#c0c0c0" stroke="#000" stroke-width="2.5" />
<rect x="2734.5" y="1700.0" width="11.0" height="157.0" fill="#c0c0c0" stroke="#000" stroke-width="2.5" />
<rect x="2731.5" y="1857.0" width="17.0" height="23.0" fill="#c0c0c0" stroke="#000" stroke-width="2.5" />
<rect x="2756.5" y="1676.0" width="17.0" height="24.0" fill="#c0c0c0" stroke="#000" stroke-width="2.5" />
<rect x="2759.5" y="1700.0" width="11.0" height="157.0" fill="#c0c0c0" stroke="#000" stroke-width="2.5" />
<rect x="2756.5" y="1857.0" width="17.0" height="23.0" fill="#c0c0c0" stroke="#000" stroke-width="2.5" />
<rect x="2729.0" y="1879.0" width="48.0" height="8.0" fill="#c0c0c0" stroke="#000" stroke-width="2.5" />
<path d="M2740,1888 V1912 Q2740,1925 2725,1940 Q2695,1955 2695,1980 V2015 Q2695,2038 2738,2038" stroke="#ec0808" stroke-width="8" fill="none" />
<path d="M2764,1888 V1915 Q2764,1935 2740,1950 Q2716,1965 2716,1985 V2000 Q2716,2011 2742,2011" stroke="#f97a10" stroke-width="8" fill="none" />
<rect x="2747.0" y="2006.0" width="13.0" height="10.0" fill="#c0c0c0" stroke="#000" stroke-width="2.5" />
<rect x="2747.0" y="2033.0" width="13.0" height="10.0" fill="#c0c0c0" stroke="#000" stroke-width="2.5" />
<rect x="2767.0" y="1987.0" width="14.0" height="12.0" fill="#c0c0c0" stroke="#000" stroke-width="2.5" />
<rect x="2760.0" y="1999.0" width="30.0" height="54.0" fill="#c0c0c0" stroke="#000" stroke-width="2.5" />
<rect x="2790.0" y="2008.0" width="7.0" height="10.0" fill="#c0c0c0" stroke="#000" stroke-width="2.5" />
<rect x="2767.0" y="2013.0" width="15.0" height="12.0" fill="#000" stroke="#000" stroke-width="0" />
<circle cx="2774.5" cy="2019" r="3" fill="#fff"/>
<rect x="2763.0" y="2053.0" width="24.0" height="9.0" fill="#c0c0c0" stroke="#000" stroke-width="2.5" />
<rect x="2767.0" y="2062.0" width="15.0" height="300.0" fill="#c0c0c0" stroke="#000" stroke-width="2.5" />
<rect x="2763.0" y="2361.0" width="22.0" height="6.0" fill="#c0c0c0" stroke="#000" stroke-width="2.5" />
<rect x="2784.0" y="2228.5" width="73.5" height="10.5" fill="#c0c0c0" stroke="#000" stroke-width="2.5" />
<path d="M2795.5,2239 H2845 L2837.5,2249 H2800.5 Z" stroke="#000" stroke-width="2.5" fill="#c0c0c0" />
<rect x="2800.5" y="2249.0" width="37.0" height="46.5" fill="#c0c0c0" stroke="#000" stroke-width="2.5" />
<line x1="2800.5" y1="2284.0" x2="2837.5" y2="2284.0" stroke="#000" stroke-width="2.5"/>
<rect x="2797.5" y="2295.5" width="46.0" height="9.5" fill="#c0c0c0" stroke="#000" stroke-width="3" />
<rect x="2800.5" y="2305.0" width="37.0" height="12.0" fill="#c0c0c0" stroke="#000" stroke-width="2.5" />
<rect x="2778.0" y="2429.0" width="19.0" height="52.0" fill="#c0c0c0" stroke="#000" stroke-width="2.5" />
<line x1="2778.0" y1="2475.0" x2="2797.0" y2="2475.0" stroke="#000" stroke-width="2"/>
<rect x="2813.0" y="2429.0" width="15.0" height="52.0" fill="#c0c0c0" stroke="#000" stroke-width="2.5" />
<line x1="2813.0" y1="2475.0" x2="2828.0" y2="2475.0" stroke="#000" stroke-width="2"/>
<path d="M2775,2366 Q2775,2388 2792,2405" stroke="#000" stroke-width="19" fill="none" stroke-linecap="butt"/>
<path d="M2775,2366 Q2775,2388 2792,2405" stroke="#c0c0c0" stroke-width="14" fill="none" stroke-linecap="butt"/>
<path d="M2770,2405 L2792,2392 L2806,2396 L2809,2420 L2800,2429 L2778,2429 Z" stroke="#000" stroke-width="2.5" fill="#c0c0c0" />
<circle cx="2806" cy="2384" r="5" fill="#c0c0c0" stroke="#000" stroke-width="2"/>
<path d="M2766,2481 H2839 Q2855,2481 2855,2494 Q2855,2507.5 2839,2507.5 H2766 Q2750.5,2507.5 2750.5,2494 Q2750.5,2481 2766,2481 Z" stroke="#000" stroke-width="2.5" fill="#c0c0c0" />
<rect x="2764.0" y="2511.0" width="77.5" height="7.0" fill="#c0c0c0" stroke="#000" stroke-width="2.5" />
<path d="M2819,2316 V2372 Q2819,2440 2803,2498" stroke="#000" stroke-width="30" fill="none" stroke-linecap="butt"/>
<path d="M2819,2316 V2372 Q2819,2440 2803,2498" stroke="#c0c0c0" stroke-width="25" fill="none" stroke-linecap="butt"/>
</g>
</svg></body></html>
